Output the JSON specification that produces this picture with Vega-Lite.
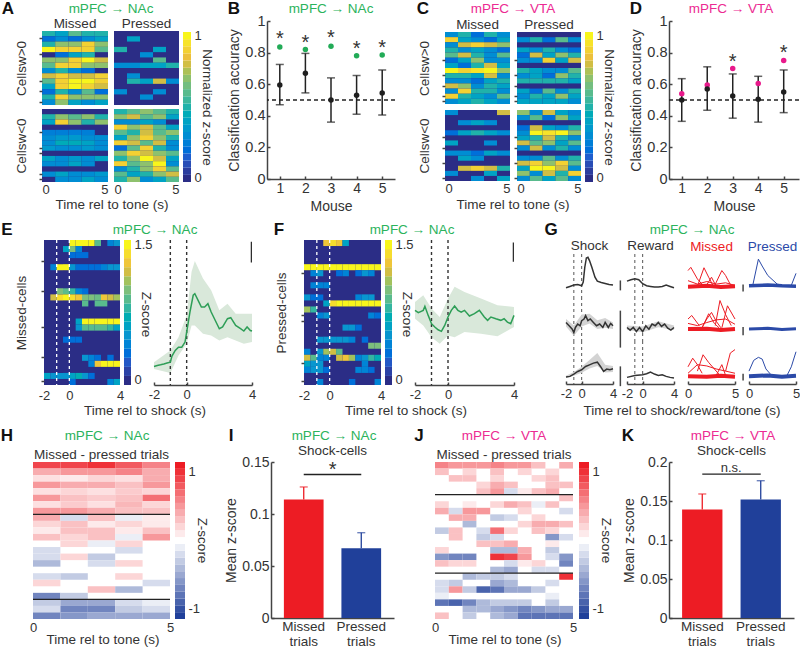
{"$schema":"https://vega.github.io/schema/vega-lite/v6.json","padding":0,"autosize":{"type":"pad"},
"config":{"view":{"stroke":null},"font":"Liberation Sans","concat":{"spacing":0},"axis":{"grid":false,"tickCount":12,"labelFlush":false,"labelColor":"#333","titleColor":"#333","labelFontSize":13,"titleFontSize":13.5,"titleFontWeight":"normal","domainColor":"#444","domainWidth":1.5,"tickColor":"#444","tickWidth":1.5,"tickSize":-3,"labelPadding":5},"title":{"fontSize":13.5,"fontWeight":"normal","color":"#333","offset":1},"text":{"color":"#333"}},
"datasets":{
"am":[{"t":0,"r":0,"v":0.5},{"t":1,"r":0,"v":0.4},{"t":2,"r":0,"v":0.6},{"t":3,"r":0,"v":0.5},{"t":4,"r":0,"v":0.5},{"t":0,"r":1,"v":0.2},{"t":1,"r":1,"v":0.3},{"t":2,"r":1,"v":0.2},{"t":3,"r":1,"v":0.3},{"t":4,"r":1,"v":0.4},{"t":0,"r":2,"v":0.5},{"t":1,"r":2,"v":0.7},{"t":2,"r":2,"v":0.7},{"t":3,"r":2,"v":0.9},{"t":4,"r":2,"v":0.7},{"t":0,"r":3,"v":1},{"t":1,"r":3,"v":0.9},{"t":2,"r":3,"v":0.9},{"t":3,"r":3,"v":0.9},{"t":4,"r":3,"v":0.6},{"t":1,"r":4,"v":0.2},{"t":2,"r":4,"v":0.4},{"t":3,"r":4,"v":0.5},{"t":0,"r":5,"v":0.7},{"t":1,"r":5,"v":0.7},{"t":2,"r":5,"v":0.9},{"t":3,"r":5,"v":1},{"t":4,"r":5,"v":0.8},{"t":0,"r":6,"v":0.6},{"t":1,"r":6,"v":0.9},{"t":2,"r":6,"v":0.9},{"t":3,"r":6,"v":0.7},{"t":4,"r":6,"v":0.7},{"t":0,"r":7,"v":0.3},{"t":1,"r":7,"v":0.5},{"t":2,"r":7,"v":0.3},{"t":3,"r":7,"v":0.2},{"t":0,"r":8,"v":0.8},{"t":1,"r":8,"v":0.9},{"t":2,"r":8,"v":0.8},{"t":3,"r":8,"v":0.8},{"t":4,"r":8,"v":0.9},{"t":0,"r":9,"v":0.6},{"t":1,"r":9,"v":0.9},{"t":2,"r":9,"v":1},{"t":3,"r":9,"v":1},{"t":4,"r":9,"v":0.9},{"t":0,"r":10,"v":0.4},{"t":1,"r":10,"v":0.9},{"t":2,"r":10,"v":1},{"t":3,"r":10,"v":0.9},{"t":4,"r":10,"v":0.8},{"t":0,"r":11,"v":0.2},{"t":1,"r":11,"v":0.5},{"t":2,"r":11,"v":0.3},{"t":3,"r":11,"v":0.6},{"t":4,"r":11,"v":0.2},{"t":0,"r":12,"v":0.5},{"t":1,"r":12,"v":0.9},{"t":2,"r":12,"v":0.7},{"t":3,"r":12,"v":0.7},{"t":4,"r":12,"v":0.7},{"t":0,"r":13,"v":0.3},{"t":1,"r":13,"v":0.7},{"t":2,"r":13,"v":0.4},{"t":3,"r":13,"v":0.3},{"t":4,"r":13,"v":0.4}],
"ap":[{"t":1,"r":1,"v":0.4},{"t":0,"r":3,"v":0.5},{"t":3,"r":3,"v":0.4},{"t":2,"r":4,"v":0.3},{"t":3,"r":5,"v":0.6},{"t":0,"r":6,"v":0.3},{"t":1,"r":6,"v":0.3},{"t":2,"r":6,"v":0.4},{"t":3,"r":6,"v":0.4},{"t":4,"r":6,"v":0.5},{"t":1,"r":8,"v":0.3},{"t":1,"r":9,"v":0.5},{"t":2,"r":9,"v":0.4},{"t":3,"r":9,"v":0.8},{"t":4,"r":9,"v":0.3},{"t":0,"r":11,"v":0.3},{"t":3,"r":11,"v":0.3},{"t":2,"r":12,"v":0.3}],
"bm":[{"t":0,"r":1,"v":0.5},{"t":1,"r":1,"v":0.7},{"t":2,"r":1,"v":0.6},{"t":3,"r":1,"v":0.7},{"t":4,"r":1,"v":0.5},{"t":0,"r":2,"v":0.4},{"t":1,"r":2,"v":0.9},{"t":2,"r":2,"v":0.7},{"t":3,"r":2,"v":0.5},{"t":4,"r":2,"v":0.7},{"t":0,"r":4,"v":0.25},{"t":1,"r":4,"v":0.25},{"t":2,"r":4,"v":0.25},{"t":3,"r":4,"v":0.25},{"t":0,"r":5,"v":0.3},{"t":1,"r":5,"v":0.35},{"t":2,"r":5,"v":0.35},{"t":3,"r":5,"v":0.3},{"t":4,"r":5,"v":0.3},{"t":0,"r":6,"v":0.3},{"t":1,"r":6,"v":0.45},{"t":2,"r":6,"v":0.45},{"t":3,"r":6,"v":0.4},{"t":4,"r":6,"v":0.3},{"t":0,"r":7,"v":0.35},{"t":1,"r":7,"v":0.3},{"t":2,"r":7,"v":0.3},{"t":3,"r":7,"v":0.35},{"t":4,"r":7,"v":0.3},{"t":0,"r":9,"v":0.4},{"t":1,"r":9,"v":0.3},{"t":2,"r":9,"v":0.35},{"t":3,"r":9,"v":0.3},{"t":4,"r":9,"v":0.4},{"t":0,"r":10,"v":0.3},{"t":1,"r":10,"v":0.3},{"t":2,"r":10,"v":0.4},{"t":3,"r":10,"v":0.3},{"t":0,"r":12,"v":0.3},{"t":1,"r":12,"v":0.4},{"t":2,"r":12,"v":0.3},{"t":3,"r":12,"v":0.3},{"t":4,"r":12,"v":0.35},{"t":1,"r":13,"v":0.3},{"t":2,"r":13,"v":0.3},{"t":3,"r":13,"v":0.4},{"t":4,"r":13,"v":0.3}],
"bp":[{"t":0,"r":0,"v":0.5},{"t":1,"r":0,"v":0.6},{"t":2,"r":0,"v":0.7},{"t":3,"r":0,"v":0.6},{"t":4,"r":0,"v":0.5},{"t":0,"r":1,"v":0.7},{"t":1,"r":1,"v":0.8},{"t":2,"r":1,"v":0.6},{"t":3,"r":1,"v":0.7},{"t":4,"r":1,"v":0.4},{"t":0,"r":2,"v":0.3},{"t":1,"r":2,"v":0.3},{"t":2,"r":2,"v":0.4},{"t":3,"r":2,"v":0.3},{"t":0,"r":3,"v":0.9},{"t":1,"r":3,"v":0.7},{"t":2,"r":3,"v":0.8},{"t":3,"r":3,"v":0.6},{"t":4,"r":3,"v":0.4},{"t":0,"r":4,"v":0.6},{"t":1,"r":4,"v":0.5},{"t":2,"r":4,"v":0.8},{"t":3,"r":4,"v":0.6},{"t":4,"r":4,"v":0.7},{"t":0,"r":5,"v":0.4},{"t":1,"r":5,"v":0.7},{"t":2,"r":5,"v":0.9},{"t":3,"r":5,"v":0.7},{"t":4,"r":5,"v":0.5},{"t":0,"r":6,"v":0.9},{"t":1,"r":6,"v":0.8},{"t":2,"r":6,"v":0.6},{"t":3,"r":6,"v":0.8},{"t":4,"r":6,"v":0.3},{"t":0,"r":7,"v":0.2},{"t":1,"r":7,"v":0.6},{"t":2,"r":7,"v":0.9},{"t":3,"r":7,"v":0.5},{"t":4,"r":7,"v":0.3},{"t":0,"r":8,"v":0.7},{"t":1,"r":8,"v":0.9},{"t":2,"r":8,"v":0.8},{"t":3,"r":8,"v":0.7},{"t":4,"r":8,"v":0.6},{"t":0,"r":9,"v":0.5},{"t":1,"r":9,"v":0.7},{"t":2,"r":9,"v":1},{"t":3,"r":9,"v":0.8},{"t":4,"r":9,"v":0.4},{"t":0,"r":10,"v":0.9},{"t":1,"r":10,"v":0.6},{"t":2,"r":10,"v":0.7},{"t":3,"r":10,"v":1},{"t":4,"r":10,"v":0.3},{"t":0,"r":11,"v":0.3},{"t":1,"r":11,"v":0.5},{"t":2,"r":11,"v":0.7},{"t":3,"r":11,"v":0.9},{"t":4,"r":11,"v":0.6},{"t":0,"r":12,"v":0.6},{"t":1,"r":12,"v":0.4},{"t":2,"r":12,"v":0.5},{"t":3,"r":12,"v":0.7},{"t":4,"r":12,"v":0.8},{"t":0,"r":13,"v":0.5},{"t":1,"r":13,"v":0.7},{"t":2,"r":13,"v":0.3},{"t":3,"r":13,"v":0.4},{"t":4,"r":13,"v":0.6}],
"cm":[{"t":0,"r":0,"v":0.3},{"t":1,"r":0,"v":0.5},{"t":2,"r":0,"v":0.2},{"t":3,"r":0,"v":0.5},{"t":4,"r":0,"v":0.3},{"t":0,"r":1,"v":0.9},{"t":1,"r":1,"v":0.4},{"t":2,"r":1,"v":0.3},{"t":3,"r":1,"v":0.2},{"t":4,"r":1,"v":0.4},{"t":0,"r":2,"v":0.3},{"t":1,"r":2,"v":0.8},{"t":2,"r":2,"v":0.9},{"t":3,"r":2,"v":0.8},{"t":4,"r":2,"v":0.7},{"t":0,"r":3,"v":0.5},{"t":1,"r":3,"v":0.3},{"t":2,"r":3,"v":0.4},{"t":3,"r":3,"v":0.3},{"t":4,"r":3,"v":0.2},{"t":0,"r":4,"v":0.6},{"t":1,"r":4,"v":0.8},{"t":2,"r":4,"v":0.5},{"t":3,"r":4,"v":0.3},{"t":4,"r":4,"v":0.6},{"t":0,"r":5,"v":0.2},{"t":1,"r":5,"v":0.4},{"t":2,"r":5,"v":0.7},{"t":3,"r":5,"v":0.3},{"t":4,"r":5,"v":0.3},{"t":0,"r":6,"v":0.4},{"t":1,"r":6,"v":0.2},{"t":2,"r":6,"v":0.5},{"t":3,"r":6,"v":0.8},{"t":4,"r":6,"v":0.4},{"t":0,"r":7,"v":1},{"t":1,"r":7,"v":0.9},{"t":2,"r":7,"v":0.95},{"t":3,"r":7,"v":1},{"t":4,"r":7,"v":0.7},{"t":0,"r":8,"v":0.5},{"t":1,"r":8,"v":0.5},{"t":2,"r":8,"v":0.4},{"t":3,"r":8,"v":0.8},{"t":4,"r":8,"v":0.3},{"t":0,"r":9,"v":0.3},{"t":1,"r":9,"v":0.3},{"t":2,"r":9,"v":0.2},{"t":3,"r":9,"v":0.4},{"t":4,"r":9,"v":0.5},{"t":0,"r":10,"v":0.8},{"t":1,"r":10,"v":0.7},{"t":2,"r":10,"v":0.3},{"t":3,"r":10,"v":0.5},{"t":4,"r":10,"v":0.4},{"t":0,"r":11,"v":0.3},{"t":1,"r":11,"v":0.9},{"t":2,"r":11,"v":0.5},{"t":3,"r":11,"v":0.5},{"t":4,"r":11,"v":0.3},{"t":0,"r":12,"v":0.9},{"t":1,"r":12,"v":0.5},{"t":2,"r":12,"v":0.4},{"t":3,"r":12,"v":0.3},{"t":4,"r":12,"v":0.6},{"t":0,"r":13,"v":0.3},{"t":1,"r":13,"v":0.4},{"t":2,"r":13,"v":0.5},{"t":3,"r":13,"v":0.4},{"t":4,"r":13,"v":0.3}],
"cp":[{"t":0,"r":1,"v":0.3},{"t":1,"r":1,"v":0.5},{"t":2,"r":1,"v":0.2},{"t":3,"r":1,"v":0.6},{"t":4,"r":1,"v":0.3},{"t":0,"r":3,"v":0.4},{"t":1,"r":3,"v":0.3},{"t":2,"r":3,"v":0.5},{"t":3,"r":3,"v":0.3},{"t":4,"r":3,"v":0.2},{"t":0,"r":4,"v":0.2},{"t":1,"r":4,"v":0.8},{"t":2,"r":4,"v":0.4},{"t":3,"r":4,"v":0.7},{"t":4,"r":4,"v":0.5},{"t":0,"r":5,"v":0.3},{"t":1,"r":5,"v":0.3},{"t":2,"r":5,"v":0.9},{"t":3,"r":5,"v":0.4},{"t":4,"r":5,"v":0.8},{"t":0,"r":7,"v":0.5},{"t":1,"r":7,"v":0.4},{"t":2,"r":7,"v":0.3},{"t":3,"r":7,"v":0.3},{"t":4,"r":7,"v":0.6},{"t":0,"r":8,"v":0.3},{"t":1,"r":8,"v":0.4},{"t":2,"r":8,"v":0.2},{"t":3,"r":8,"v":0.7},{"t":4,"r":8,"v":0.5},{"t":0,"r":9,"v":0.5},{"t":1,"r":9,"v":0.5},{"t":2,"r":9,"v":0.5},{"t":3,"r":9,"v":0.5},{"t":4,"r":9,"v":0.4},{"t":0,"r":11,"v":0.4},{"t":1,"r":11,"v":0.2},{"t":2,"r":11,"v":0.6},{"t":3,"r":11,"v":0.3},{"t":4,"r":11,"v":0.5},{"t":0,"r":12,"v":0.3},{"t":1,"r":12,"v":0.5},{"t":2,"r":12,"v":0.4},{"t":3,"r":12,"v":0.7},{"t":4,"r":12,"v":0.4},{"t":0,"r":13,"v":0.4},{"t":1,"r":13,"v":0.4},{"t":2,"r":13,"v":0.4},{"t":3,"r":13,"v":0.4},{"t":4,"r":13,"v":0.3}],
"dm":[{"t":0,"r":0,"v":0.3},{"t":4,"r":0,"v":0.8},{"t":1,"r":2,"v":0.3},{"t":2,"r":2,"v":0.4},{"t":3,"r":2,"v":0.3},{"t":0,"r":4,"v":0.2},{"t":1,"r":4,"v":0.4},{"t":2,"r":4,"v":0.5},{"t":3,"r":4,"v":0.4},{"t":4,"r":4,"v":0.3},{"t":0,"r":6,"v":0.4},{"t":3,"r":6,"v":0.3},{"t":0,"r":8,"v":0.3},{"t":1,"r":8,"v":0.3},{"t":2,"r":8,"v":0.2},{"t":3,"r":8,"v":0.4},{"t":4,"r":8,"v":0.3},{"t":1,"r":9,"v":0.4},{"t":2,"r":9,"v":0.3},{"t":1,"r":11,"v":0.8},{"t":2,"r":11,"v":0.9},{"t":3,"r":11,"v":0.8},{"t":4,"r":11,"v":0.5},{"t":0,"r":12,"v":0.3},{"t":3,"r":12,"v":0.4},{"t":2,"r":13,"v":0.3},{"t":4,"r":13,"v":0.4}],
"dp":[{"t":0,"r":0,"v":0.7},{"t":1,"r":0,"v":0.3},{"t":2,"r":0,"v":0.8},{"t":3,"r":0,"v":0.4},{"t":4,"r":0,"v":0.3},{"t":0,"r":1,"v":0.3},{"t":1,"r":1,"v":0.6},{"t":2,"r":1,"v":0.2},{"t":3,"r":1,"v":0.7},{"t":4,"r":1,"v":0.4},{"t":0,"r":3,"v":0.2},{"t":1,"r":3,"v":0.8},{"t":2,"r":3,"v":0.4},{"t":3,"r":3,"v":0.3},{"t":4,"r":3,"v":0.5},{"t":0,"r":4,"v":0.3},{"t":1,"r":4,"v":1},{"t":2,"r":4,"v":0.95},{"t":3,"r":4,"v":1},{"t":4,"r":4,"v":0.7},{"t":0,"r":5,"v":0.4},{"t":1,"r":5,"v":0.5},{"t":2,"r":5,"v":0.8},{"t":3,"r":5,"v":0.5},{"t":4,"r":5,"v":0.3},{"t":0,"r":6,"v":0.8},{"t":1,"r":6,"v":0.6},{"t":2,"r":6,"v":0.7},{"t":3,"r":6,"v":0.4},{"t":4,"r":6,"v":0.6},{"t":0,"r":7,"v":0.3},{"t":1,"r":7,"v":0.8},{"t":2,"r":7,"v":0.3},{"t":3,"r":7,"v":0.5},{"t":4,"r":7,"v":0.3},{"t":0,"r":9,"v":0.3},{"t":1,"r":9,"v":0.3},{"t":2,"r":9,"v":0.6},{"t":3,"r":9,"v":0.3},{"t":4,"r":9,"v":0.5},{"t":0,"r":10,"v":0.8},{"t":1,"r":10,"v":0.9},{"t":2,"r":10,"v":0.7},{"t":3,"r":10,"v":0.9},{"t":4,"r":10,"v":0.6},{"t":0,"r":11,"v":0.4},{"t":1,"r":11,"v":1},{"t":2,"r":11,"v":1},{"t":3,"r":11,"v":0.8},{"t":4,"r":11,"v":0.3},{"t":0,"r":12,"v":0.7},{"t":1,"r":12,"v":0.3},{"t":2,"r":12,"v":0.8},{"t":3,"r":12,"v":0.5},{"t":4,"r":12,"v":0.9},{"t":0,"r":13,"v":0.3},{"t":1,"r":13,"v":0.6},{"t":2,"r":13,"v":0.4},{"t":3,"r":13,"v":0.6},{"t":4,"r":13,"v":0.3}],
"eh":[{"t":0,"r":0,"v":1.5},{"t":0.5,"r":0,"v":1.5},{"t":1,"r":0,"v":1.5},{"t":1.5,"r":0,"v":1.5},{"t":2,"r":0,"v":0.9},{"t":3,"r":0,"v":0.4},{"t":3.5,"r":0,"v":0.5},{"t":-0.5,"r":1,"v":0.6},{"t":0,"r":1,"v":1},{"t":0.5,"r":1,"v":0.4},{"t":0,"r":2,"v":0.3},{"t":0.5,"r":2,"v":0.3},{"t":1,"r":2,"v":0.3},{"t":-1.5,"r":4,"v":0.4},{"t":-1,"r":4,"v":1.5},{"t":-0.5,"r":4,"v":1.5},{"t":0,"r":4,"v":0.5},{"t":0.5,"r":4,"v":0.3},{"t":1,"r":4,"v":0.3},{"t":1.5,"r":4,"v":0.3},{"t":2,"r":4,"v":0.3},{"t":2.5,"r":4,"v":0.4},{"t":3,"r":4,"v":0.5},{"t":3.5,"r":4,"v":0.5},{"t":-1,"r":8,"v":1},{"t":-0.5,"r":8,"v":0.9},{"t":0,"r":8,"v":0.8},{"t":0.5,"r":8,"v":0.4},{"t":1,"r":8,"v":0.3},{"t":-1.5,"r":9,"v":1.2},{"t":-1,"r":9,"v":1.4},{"t":-0.5,"r":9,"v":1.5},{"t":0,"r":9,"v":1.4},{"t":0.5,"r":9,"v":1.3},{"t":1,"r":9,"v":1},{"t":1.5,"r":9,"v":1},{"t":2,"r":9,"v":0.95},{"t":2.5,"r":9,"v":1.3},{"t":3,"r":9,"v":1.2},{"t":3.5,"r":9,"v":1.1},{"t":1,"r":10,"v":0.9},{"t":2,"r":10,"v":0.9},{"t":2.5,"r":10,"v":0.9},{"t":0.5,"r":13,"v":0.6},{"t":1,"r":13,"v":1.5},{"t":1.5,"r":13,"v":1.5},{"t":2,"r":13,"v":1.5},{"t":2.5,"r":13,"v":1.5},{"t":3,"r":13,"v":1.5},{"t":3.5,"r":13,"v":1.5},{"t":0.5,"r":14,"v":0.5},{"t":1,"r":14,"v":0.9},{"t":1.5,"r":14,"v":0.9},{"t":2,"r":14,"v":0.9},{"t":2.5,"r":14,"v":0.9},{"t":3,"r":14,"v":0.8},{"t":3.5,"r":14,"v":0.6},{"t":-0.5,"r":16,"v":0.3},{"t":0,"r":16,"v":0.3},{"t":0.5,"r":16,"v":0.3},{"t":1,"r":19,"v":0.5},{"t":1.5,"r":19,"v":0.4},{"t":2,"r":19,"v":0.3},{"t":3,"r":19,"v":0.3},{"t":1.5,"r":20,"v":0.4},{"t":2,"r":20,"v":1.3},{"t":2.5,"r":20,"v":1.5},{"t":3,"r":20,"v":1.5},{"t":3.5,"r":20,"v":1.5},{"t":-2,"r":22,"v":0.6},{"t":-1.5,"r":22,"v":0.5},{"t":-1,"r":22,"v":0.5},{"t":-0.5,"r":22,"v":0.5},{"t":0,"r":22,"v":0.6},{"t":0.5,"r":22,"v":0.7},{"t":1,"r":22,"v":0.5},{"t":1.5,"r":22,"v":0.3},{"t":0,"r":23,"v":0.3},{"t":3,"r":23,"v":0.4},{"t":3.5,"r":23,"v":0.6}],
"fh":[{"t":-0.5,"r":0,"v":1.3},{"t":0,"r":0,"v":1.4},{"t":0.5,"r":0,"v":1.3},{"t":1,"r":0,"v":0.6},{"t":-2,"r":4,"v":1.5},{"t":-1.5,"r":4,"v":1.5},{"t":-1,"r":4,"v":1.5},{"t":-0.5,"r":4,"v":1.5},{"t":0,"r":4,"v":1.5},{"t":0.5,"r":4,"v":1.5},{"t":1,"r":4,"v":1.5},{"t":1.5,"r":4,"v":1.5},{"t":2,"r":4,"v":1.5},{"t":2.5,"r":4,"v":1.5},{"t":3,"r":4,"v":1.5},{"t":3.5,"r":4,"v":1.5},{"t":-1.5,"r":5,"v":0.4},{"t":-1,"r":5,"v":0.5},{"t":0.5,"r":5,"v":0.3},{"t":1,"r":5,"v":0.4},{"t":2,"r":5,"v":0.3},{"t":2.5,"r":5,"v":0.5},{"t":3,"r":5,"v":0.4},{"t":-1.5,"r":7,"v":0.4},{"t":-1,"r":7,"v":0.4},{"t":-0.5,"r":7,"v":0.4},{"t":-2,"r":9,"v":0.5},{"t":-1.5,"r":9,"v":0.3},{"t":-1,"r":9,"v":0.3},{"t":2,"r":9,"v":0.4},{"t":2.5,"r":9,"v":0.5},{"t":3,"r":9,"v":0.5},{"t":-0.5,"r":10,"v":0.6},{"t":0,"r":10,"v":1.4},{"t":0.5,"r":10,"v":1.5},{"t":1,"r":10,"v":1.5},{"t":1.5,"r":10,"v":1.5},{"t":2,"r":10,"v":1.5},{"t":2.5,"r":10,"v":1.5},{"t":3,"r":10,"v":1.5},{"t":3.5,"r":10,"v":1.5},{"t":-2,"r":11,"v":1.1},{"t":-1.5,"r":11,"v":0.8},{"t":-1,"r":12,"v":0.4},{"t":-0.5,"r":12,"v":0.5},{"t":3,"r":12,"v":0.4},{"t":3.5,"r":12,"v":0.3},{"t":1,"r":14,"v":0.5},{"t":1.5,"r":14,"v":0.5},{"t":2,"r":14,"v":0.3},{"t":-1,"r":16,"v":0.5},{"t":-0.5,"r":16,"v":0.5},{"t":0,"r":16,"v":0.5},{"t":0.5,"r":16,"v":0.5},{"t":1,"r":16,"v":0.5},{"t":1.5,"r":16,"v":0.4},{"t":2.5,"r":16,"v":0.3},{"t":3,"r":17,"v":1},{"t":3.5,"r":17,"v":1},{"t":-2,"r":18,"v":0.4},{"t":-1,"r":18,"v":0.5},{"t":-0.5,"r":18,"v":1.1},{"t":0,"r":18,"v":1.2},{"t":0.5,"r":18,"v":0.9},{"t":-2,"r":19,"v":1.2},{"t":-1.5,"r":19,"v":0.9},{"t":-1,"r":19,"v":0.4},{"t":-0.5,"r":19,"v":0.4},{"t":0.5,"r":19,"v":1.2},{"t":1,"r":19,"v":1.3},{"t":1.5,"r":19,"v":1.1},{"t":2,"r":19,"v":0.4},{"t":2.5,"r":19,"v":0.5},{"t":3,"r":19,"v":0.8},{"t":3.5,"r":19,"v":0.7},{"t":-2,"r":20,"v":0.6},{"t":-1.5,"r":20,"v":0.5},{"t":-1,"r":20,"v":0.5},{"t":2.5,"r":20,"v":0.4},{"t":-2,"r":21,"v":0.4},{"t":-1.5,"r":21,"v":0.5},{"t":-1,"r":21,"v":0.5},{"t":-0.5,"r":21,"v":0.3},{"t":2,"r":21,"v":0.4},{"t":2.5,"r":21,"v":0.4},{"t":3,"r":21,"v":0.3},{"t":-1,"r":23,"v":0.4},{"t":1.5,"r":23,"v":0.3},{"t":3.5,"r":23,"v":0.4}],
"hh":[{"t":0,"r":0,"v":0.9},{"t":1,"r":0,"v":0.9},{"t":2,"r":0,"v":1},{"t":3,"r":0,"v":0.8},{"t":4,"r":0,"v":0.6},{"t":0,"r":1,"v":0.4},{"t":1,"r":1,"v":0.5},{"t":2,"r":1,"v":0.5},{"t":3,"r":1,"v":0.6},{"t":4,"r":1,"v":0.4},{"t":0,"r":2,"v":0.15},{"t":1,"r":2,"v":0.1},{"t":2,"r":2,"v":0.2},{"t":3,"r":2,"v":0.15},{"t":4,"r":2,"v":0.4},{"t":0,"r":3,"v":0.5},{"t":1,"r":3,"v":0.4},{"t":2,"r":3,"v":0.4},{"t":3,"r":3,"v":0.3},{"t":4,"r":3,"v":0.5},{"t":0,"r":4,"v":0.15},{"t":1,"r":4,"v":0.2},{"t":2,"r":4,"v":0.15},{"t":3,"r":4,"v":0.25},{"t":4,"r":4,"v":0.2},{"t":0,"r":5,"v":0.5},{"t":1,"r":5,"v":0.3},{"t":2,"r":5,"v":0.25},{"t":3,"r":5,"v":0.3},{"t":4,"r":5,"v":0.7},{"t":0,"r":6,"v":0.15},{"t":1,"r":6,"v":0.25},{"t":2,"r":6,"v":0.15},{"t":3,"r":6,"v":0.35},{"t":4,"r":6,"v":0.2},{"t":0,"r":7,"v":0.5},{"t":1,"r":7,"v":0.5},{"t":2,"r":7,"v":0.4},{"t":3,"r":7,"v":0.3},{"t":4,"r":7,"v":0.3},{"t":0,"r":8,"v":0.4},{"t":1,"r":8,"v":-0.2},{"t":2,"r":8,"v":0.3},{"t":3,"r":8,"v":-0.1},{"t":4,"r":8,"v":0.1},{"t":0,"r":9,"v":0.2},{"t":1,"r":9,"v":0.3},{"t":2,"r":9,"v":0.1},{"t":3,"r":9,"v":0.2},{"t":4,"r":9,"v":0.1},{"t":0,"r":10,"v":0.1},{"t":1,"r":10,"v":0.3},{"t":2,"r":10,"v":0.3},{"t":3,"r":10,"v":0.1},{"t":4,"r":10,"v":0.3},{"t":0,"r":11,"v":0.3},{"t":1,"r":11,"v":0.2},{"t":2,"r":11,"v":0.3},{"t":3,"r":11,"v":-0.1},{"t":4,"r":11,"v":0.5},{"t":1,"r":12,"v":0.2},{"t":2,"r":12,"v":-0.1},{"t":3,"r":12,"v":0.2},{"t":0,"r":13,"v":-0.2},{"t":3,"r":13,"v":-0.2},{"t":0,"r":14,"v":-0.2},{"t":1,"r":14,"v":0.2},{"t":2,"r":14,"v":-0.3},{"t":0,"r":15,"v":-0.4},{"t":2,"r":15,"v":-0.2},{"t":3,"r":15,"v":0.2},{"t":0,"r":17,"v":-0.2},{"t":1,"r":17,"v":-0.3},{"t":3,"r":17,"v":0.2},{"t":0,"r":18,"v":0.2},{"t":4,"r":18,"v":-0.2},{"t":2,"r":19,"v":0.3},{"t":3,"r":19,"v":-0.4},{"t":0,"r":20,"v":-0.7},{"t":1,"r":20,"v":-0.3},{"t":0,"r":21,"v":-0.3},{"t":1,"r":21,"v":-0.5},{"t":2,"r":21,"v":-0.5},{"t":3,"r":21,"v":-0.2},{"t":4,"r":21,"v":-0.1},{"t":0,"r":22,"v":-0.2},{"t":1,"r":22,"v":-0.7},{"t":2,"r":22,"v":-0.7},{"t":3,"r":22,"v":-0.3},{"t":4,"r":22,"v":-0.2},{"t":0,"r":23,"v":-0.7},{"t":1,"r":23,"v":-0.6},{"t":2,"r":23,"v":-0.5},{"t":3,"r":23,"v":-0.5},{"t":4,"r":23,"v":-0.5}],
"jh":[{"t":0,"r":0,"v":0.6},{"t":0.5,"r":0,"v":0.5},{"t":1,"r":0,"v":0.5},{"t":1.5,"r":0,"v":0.5},{"t":2,"r":0,"v":0.6},{"t":2.5,"r":0,"v":0.5},{"t":3,"r":0,"v":0.5},{"t":3.5,"r":0,"v":0.3},{"t":4.5,"r":0,"v":0.4},{"t":0,"r":1,"v":0.3},{"t":1,"r":1,"v":0.2},{"t":2,"r":1,"v":0.3},{"t":3,"r":1,"v":0.2},{"t":4,"r":1,"v":0.2},{"t":0.5,"r":2,"v":0.3},{"t":1,"r":2,"v":0.3},{"t":2,"r":2,"v":0.2},{"t":3.5,"r":2,"v":0.2},{"t":4,"r":2,"v":0.3},{"t":1.5,"r":3,"v":0.2},{"t":2,"r":3,"v":0.4},{"t":2.5,"r":3,"v":0.3},{"t":4,"r":3,"v":0.3},{"t":4.5,"r":3,"v":0.3},{"t":1.5,"r":4,"v":0.3},{"t":2,"r":4,"v":0.5},{"t":2.5,"r":4,"v":-0.2},{"t":3,"r":4,"v":0.1},{"t":3.5,"r":4,"v":0.3},{"t":4,"r":4,"v":0.4},{"t":4.5,"r":5,"v":0.3},{"t":0,"r":6,"v":0.2},{"t":1,"r":6,"v":0.1},{"t":2,"r":6,"v":0.2},{"t":2.5,"r":6,"v":0.4},{"t":3,"r":6,"v":0.3},{"t":3.5,"r":6,"v":-0.1},{"t":4,"r":6,"v":0.3},{"t":0,"r":7,"v":0.4},{"t":0.5,"r":7,"v":-0.2},{"t":1,"r":7,"v":0.5},{"t":1.5,"r":7,"v":0.5},{"t":3,"r":7,"v":0.2},{"t":4.5,"r":7,"v":-0.2},{"t":0.5,"r":8,"v":0.4},{"t":1,"r":8,"v":0.4},{"t":2,"r":8,"v":-0.3},{"t":2.5,"r":8,"v":-0.2},{"t":3.5,"r":8,"v":0.2},{"t":1,"r":9,"v":-0.4},{"t":3,"r":9,"v":0.2},{"t":3.5,"r":9,"v":0.4},{"t":4,"r":9,"v":0.4},{"t":4.5,"r":9,"v":0.3},{"t":0,"r":10,"v":-0.3},{"t":0.5,"r":10,"v":0.3},{"t":1.5,"r":10,"v":-0.2},{"t":2,"r":10,"v":0.7},{"t":2.5,"r":10,"v":0.2},{"t":3.5,"r":10,"v":0.3},{"t":4,"r":10,"v":0.2},{"t":0.5,"r":11,"v":0.3},{"t":1.5,"r":11,"v":-0.3},{"t":2,"r":11,"v":-0.2},{"t":4,"r":11,"v":-0.6},{"t":4.5,"r":11,"v":-0.2},{"t":1.5,"r":12,"v":0.3},{"t":2,"r":12,"v":0.3},{"t":2.5,"r":12,"v":0.4},{"t":4,"r":12,"v":0.1},{"t":0,"r":13,"v":0.2},{"t":2,"r":13,"v":-0.4},{"t":2.5,"r":13,"v":-0.4},{"t":3,"r":13,"v":0.4},{"t":4,"r":13,"v":-0.3},{"t":0,"r":14,"v":-0.6},{"t":0.5,"r":14,"v":-0.7},{"t":1,"r":14,"v":-0.7},{"t":2,"r":14,"v":1},{"t":2.5,"r":14,"v":0.9},{"t":3,"r":14,"v":0.5},{"t":4,"r":14,"v":-0.2},{"t":4.5,"r":14,"v":-0.6},{"t":0,"r":15,"v":0.3},{"t":0.5,"r":15,"v":0.2},{"t":1,"r":15,"v":0.2},{"t":2.5,"r":15,"v":-0.2},{"t":3,"r":15,"v":0.1},{"t":3.5,"r":15,"v":0.2},{"t":4.5,"r":15,"v":-0.7},{"t":2,"r":16,"v":-0.4},{"t":2.5,"r":16,"v":-0.5},{"t":3.5,"r":16,"v":-0.2},{"t":4,"r":16,"v":-0.2},{"t":1,"r":17,"v":-0.4},{"t":1.5,"r":17,"v":-0.3},{"t":2,"r":17,"v":-0.3},{"t":2.5,"r":17,"v":-0.2},{"t":4.5,"r":17,"v":1},{"t":0,"r":18,"v":-0.2},{"t":0.5,"r":18,"v":-0.3},{"t":2,"r":18,"v":-0.5},{"t":2.5,"r":18,"v":-0.4},{"t":4,"r":18,"v":-0.2},{"t":0,"r":19,"v":-0.2},{"t":0.5,"r":19,"v":0.5},{"t":1,"r":19,"v":-0.3},{"t":1.5,"r":19,"v":-0.9},{"t":2,"r":19,"v":-0.8},{"t":2.5,"r":19,"v":-0.5},{"t":3,"r":19,"v":-0.5},{"t":3.5,"r":19,"v":-0.3},{"t":0,"r":20,"v":-0.1},{"t":4,"r":20,"v":-0.1},{"t":0,"r":21,"v":-0.8},{"t":0.5,"r":21,"v":-0.9},{"t":1,"r":21,"v":-0.7},{"t":1.5,"r":21,"v":-0.4},{"t":2,"r":21,"v":-0.3},{"t":2.5,"r":21,"v":-0.3},{"t":3,"r":21,"v":-0.3},{"t":4,"r":21,"v":-0.3},{"t":1,"r":22,"v":-0.4},{"t":1.5,"r":22,"v":-0.4},{"t":2,"r":22,"v":-0.5},{"t":2.5,"r":22,"v":-0.6},{"t":3,"r":22,"v":-0.7},{"t":3.5,"r":22,"v":-0.6},{"t":4,"r":22,"v":-0.5},{"t":4.5,"r":22,"v":-0.5},{"t":0,"r":23,"v":0.3},{"t":1,"r":23,"v":-0.3},{"t":2,"r":23,"v":-0.4},{"t":2.5,"r":23,"v":-0.5},{"t":3,"r":23,"v":-0.8},{"t":3.5,"r":23,"v":-0.8},{"t":4,"r":23,"v":-0.8},{"t":4.5,"r":23,"v":-0.8}],
"c1":[{"v":0},{"v":0.05},{"v":0.1},{"v":0.15},{"v":0.2},{"v":0.25},{"v":0.3},{"v":0.35},{"v":0.4},{"v":0.45},{"v":0.5},{"v":0.55},{"v":0.6},{"v":0.65},{"v":0.7},{"v":0.75},{"v":0.8},{"v":0.85},{"v":0.9},{"v":0.95},{"v":1}],
"c2":[{"v":0},{"v":0.1},{"v":0.2},{"v":0.3},{"v":0.4},{"v":0.5},{"v":0.6},{"v":0.7},{"v":0.8},{"v":0.9},{"v":1},{"v":1.1},{"v":1.2},{"v":1.3},{"v":1.4},{"v":1.5}],
"c3":[{"v":-1.1},{"v":-1},{"v":-0.9},{"v":-0.8},{"v":-0.7},{"v":-0.6},{"v":-0.5},{"v":-0.4},{"v":-0.3},{"v":-0.2},{"v":-0.1},{"v":0},{"v":0.1},{"v":0.2},{"v":0.3},{"v":0.4},{"v":0.5},{"v":0.6},{"v":0.7},{"v":0.8},{"v":0.9},{"v":1},{"v":1.1}],
"b":[{"m":1,"d":0.835,"s":0.595,"lo":0.47,"hi":0.725,"st":0.91},{"m":2,"d":0.82,"s":0.67,"lo":0.545,"hi":0.795,"st":0.885},{"m":3,"d":0.84,"s":0.5,"lo":0.36,"hi":0.64,"st":0.915},{"m":4,"d":0.78,"s":0.53,"lo":0.41,"hi":0.655,"st":0.85},{"m":5,"d":0.785,"s":0.545,"lo":0.405,"hi":0.69,"st":0.855}],
"d":[{"m":1,"d":0.54,"s":0.5,"lo":0.365,"hi":0.635},{"m":2,"d":0.595,"s":0.57,"lo":0.435,"hi":0.71},{"m":3,"d":0.7,"s":0.525,"lo":0.385,"hi":0.665,"st":0.766},{"m":4,"d":0.605,"s":0.505,"lo":0.36,"hi":0.65},{"m":5,"d":0.75,"s":0.55,"lo":0.42,"hi":0.69,"st":0.82}],
"el":[{"t":-2,"v":0.127},{"t":-1.8,"v":0.134},{"t":-1.6,"v":0.139},{"t":-1.4,"v":0.145},{"t":-1.2,"v":0.152},{"t":-1,"v":0.157},{"t":-0.9,"v":0.199},{"t":-0.7,"v":0.238},{"t":-0.5,"v":0.261},{"t":-0.3,"v":0.261},{"t":-0.1,"v":0.296},{"t":0,"v":0.365},{"t":0.2,"v":0.503},{"t":0.4,"v":0.619},{"t":0.5,"v":0.63},{"t":0.7,"v":0.584},{"t":0.9,"v":0.538},{"t":1.1,"v":0.538},{"t":1.3,"v":0.561},{"t":1.5,"v":0.503},{"t":1.7,"v":0.457},{"t":2,"v":0.388},{"t":2.2,"v":0.4},{"t":2.5,"v":0.457},{"t":2.7,"v":0.464},{"t":3,"v":0.411},{"t":3.3,"v":0.388},{"t":3.5,"v":0.372},{"t":3.7,"v":0.4},{"t":3.9,"v":0.376},{"t":4,"v":0.372}],
"eb":[{"t":-2,"hi":0.157,"lo":0.111},{"t":-1,"hi":0.238,"lo":0.083},{"t":-0.5,"hi":0.33,"lo":0.203},{"t":0,"hi":0.48,"lo":0.284},{"t":0.3,"hi":0.781,"lo":0.411},{"t":0.5,"hi":0.855,"lo":0.411},{"t":1,"hi":0.734,"lo":0.353},{"t":1.5,"hi":0.654,"lo":0.342},{"t":2,"hi":0.515,"lo":0.307},{"t":2.5,"hi":0.561,"lo":0.33},{"t":3,"hi":0.492,"lo":0.307},{"t":3.5,"hi":0.492,"lo":0.284},{"t":4,"hi":0.492,"lo":0.296}],
"fl":[{"t":-2,"v":0.515},{"t":-1.8,"v":0.499},{"t":-1.5,"v":0.515},{"t":-1.4,"v":0.543},{"t":-1.2,"v":0.48},{"t":-1,"v":0.423},{"t":-0.8,"v":0.4},{"t":-0.6,"v":0.381},{"t":-0.4,"v":0.37},{"t":-0.2,"v":0.411},{"t":0,"v":0.469},{"t":0.2,"v":0.515},{"t":0.4,"v":0.545},{"t":0.6,"v":0.515},{"t":0.8,"v":0.503},{"t":1,"v":0.515},{"t":1.3,"v":0.476},{"t":1.6,"v":0.492},{"t":1.9,"v":0.515},{"t":2.2,"v":0.469},{"t":2.4,"v":0.446},{"t":2.6,"v":0.469},{"t":2.9,"v":0.457},{"t":3.2,"v":0.446},{"t":3.4,"v":0.457},{"t":3.6,"v":0.434},{"t":3.8,"v":0.423},{"t":4,"v":0.48}],
"fb":[{"t":-2,"hi":0.573,"lo":0.457},{"t":-1.5,"hi":0.619,"lo":0.411},{"t":-1,"hi":0.527,"lo":0.33},{"t":-0.5,"hi":0.469,"lo":0.284},{"t":0,"hi":0.596,"lo":0.342},{"t":0.4,"hi":0.677,"lo":0.33},{"t":1,"hi":0.642,"lo":0.365},{"t":2,"hi":0.596,"lo":0.353},{"t":3,"hi":0.55,"lo":0.337},{"t":4,"hi":0.538,"lo":0.4}],
"gs":[{"r":1,"t":-2,"v":0.215},{"r":1,"t":-1.5,"v":0.246},{"r":1,"t":-1,"v":0.277},{"r":1,"t":-0.5,"v":0.292},{"r":1,"t":0,"v":0.262},{"r":1,"t":0.2,"v":0.346},{"r":1,"t":0.4,"v":0.692},{"r":1,"t":0.6,"v":0.908},{"r":1,"t":0.8,"v":0.923},{"r":1,"t":1,"v":0.846},{"r":1,"t":1.3,"v":0.692},{"r":1,"t":1.7,"v":0.462},{"r":1,"t":2,"v":0.369},{"r":1,"t":2.5,"v":0.338},{"r":1,"t":3,"v":0.315},{"r":1,"t":3.5,"v":0.292},{"r":1,"t":4,"v":0.277},{"r":2,"t":-2,"v":0.423},{"r":2,"t":-1.6,"v":0.346},{"r":2,"t":-1.2,"v":0.269},{"r":2,"t":-1,"v":0.192},{"r":2,"t":-0.8,"v":0.308},{"r":2,"t":-0.5,"v":0.385},{"r":2,"t":-0.2,"v":0.346},{"r":2,"t":0,"v":0.462},{"r":2,"t":0.3,"v":0.5},{"r":2,"t":0.5,"v":0.577},{"r":2,"t":0.8,"v":0.462},{"r":2,"t":1.1,"v":0.5},{"r":2,"t":1.5,"v":0.423},{"r":2,"t":1.9,"v":0.346},{"r":2,"t":2.3,"v":0.385},{"r":2,"t":2.7,"v":0.308},{"r":2,"t":3,"v":0.423},{"r":2,"t":3.4,"v":0.308},{"r":2,"t":3.7,"v":0.4},{"r":2,"t":4,"v":0.346},{"r":3,"t":-2,"v":0.162},{"r":3,"t":-1.5,"v":0.177},{"r":3,"t":-1,"v":0.231},{"r":3,"t":-0.5,"v":0.292},{"r":3,"t":0,"v":0.331},{"r":3,"t":0.5,"v":0.408},{"r":3,"t":1,"v":0.446},{"r":3,"t":1.5,"v":0.485},{"r":3,"t":2,"v":0.508},{"r":3,"t":2.4,"v":0.408},{"r":3,"t":2.8,"v":0.292},{"r":3,"t":3.2,"v":0.346},{"r":3,"t":3.6,"v":0.331},{"r":3,"t":4,"v":0.354}],
"gr":[{"r":1,"t":-2,"v":0.369},{"r":1,"t":-1.5,"v":0.4},{"r":1,"t":-1,"v":0.423},{"r":1,"t":-0.5,"v":0.4},{"r":1,"t":0,"v":0.308},{"r":1,"t":0.5,"v":0.262},{"r":1,"t":1,"v":0.246},{"r":1,"t":1.5,"v":0.231},{"r":1,"t":2,"v":0.231},{"r":1,"t":2.5,"v":0.246},{"r":1,"t":3,"v":0.277},{"r":1,"t":3.5,"v":0.246},{"r":1,"t":4,"v":0.215},{"r":2,"t":-2,"v":0.308},{"r":2,"t":-1.6,"v":0.246},{"r":2,"t":-1.2,"v":0.308},{"r":2,"t":-0.8,"v":0.215},{"r":2,"t":-0.4,"v":0.308},{"r":2,"t":0,"v":0.215},{"r":2,"t":0.4,"v":0.346},{"r":2,"t":0.8,"v":0.269},{"r":2,"t":1.2,"v":0.385},{"r":2,"t":1.6,"v":0.346},{"r":2,"t":2,"v":0.423},{"r":2,"t":2.4,"v":0.331},{"r":2,"t":2.8,"v":0.385},{"r":2,"t":3.2,"v":0.292},{"r":2,"t":3.6,"v":0.246},{"r":2,"t":4,"v":0.308},{"r":3,"t":-2,"v":0.154},{"r":3,"t":-1,"v":0.2},{"r":3,"t":0,"v":0.215},{"r":3,"t":0.5,"v":0.238},{"r":3,"t":1,"v":0.277},{"r":3,"t":1.5,"v":0.231},{"r":3,"t":2,"v":0.2},{"r":3,"t":2.5,"v":0.215},{"r":3,"t":3,"v":0.177},{"r":3,"t":3.5,"v":0.154},{"r":3,"t":4,"v":0.138}],
"gb":[{"p":"s2","t":-2,"lo":0.33,"hi":0.5},{"p":"s2","t":-1,"lo":0.12,"hi":0.35},{"p":"s2","t":0,"lo":0.33,"hi":0.6},{"p":"s2","t":1,"lo":0.4,"hi":0.62},{"p":"s2","t":2,"lo":0.27,"hi":0.47},{"p":"s2","t":3,"lo":0.3,"hi":0.52},{"p":"s2","t":4,"lo":0.27,"hi":0.42},{"p":"s3","t":-2,"lo":0.14,"hi":0.19},{"p":"s3","t":-1,"lo":0.19,"hi":0.28},{"p":"s3","t":0,"lo":0.26,"hi":0.4},{"p":"s3","t":1,"lo":0.36,"hi":0.56},{"p":"s3","t":2,"lo":0.42,"hi":0.72},{"p":"s3","t":3,"lo":0.27,"hi":0.45},{"p":"s3","t":4,"lo":0.28,"hi":0.42},{"p":"r2","t":-2,"lo":0.25,"hi":0.35},{"p":"r2","t":0,"lo":0.2,"hi":0.33},{"p":"r2","t":2,"lo":0.31,"hi":0.45},{"p":"r2","t":4,"lo":0.25,"hi":0.35}],
"gm":[{"r":1,"k":"a","t":0,"v":0.615},{"r":1,"k":"a","t":0.3,"v":0.69},{"r":1,"k":"a","t":1,"v":0.42},{"r":1,"k":"a","t":1.6,"v":0.27},{"r":1,"k":"b","t":1,"v":0.25},{"r":1,"k":"b","t":1.7,"v":0.68},{"r":1,"k":"b","t":2.2,"v":0.46},{"r":1,"k":"b","t":2.7,"v":0.25},{"r":1,"k":"c","t":2.8,"v":0.25},{"r":1,"k":"c","t":3.6,"v":0.615},{"r":1,"k":"c","t":4,"v":0.5},{"r":1,"k":"c","t":4.6,"v":0.25},{"r":1,"k":"d","t":0,"v":0.38},{"r":1,"k":"d","t":1,"v":0.3},{"r":1,"k":"d","t":2,"v":0.36},{"r":1,"k":"d","t":3,"v":0.3},{"r":1,"k":"d","t":4,"v":0.33},{"r":1,"k":"d","t":5,"v":0.27},{"r":1,"k":"e","t":1.9,"v":0.25},{"r":1,"k":"e","t":2.5,"v":0.46},{"r":1,"k":"e","t":3,"v":0.25},{"r":2,"k":"a","t":0,"v":0.5},{"r":2,"k":"a","t":0.4,"v":0.58},{"r":2,"k":"a","t":1.2,"v":0.35},{"r":2,"k":"b","t":1.5,"v":0.3},{"r":2,"k":"b","t":2.2,"v":0.62},{"r":2,"k":"b","t":2.8,"v":0.4},{"r":2,"k":"b","t":3.3,"v":0.3},{"r":2,"k":"c","t":2.9,"v":0.35},{"r":2,"k":"c","t":3.4,"v":0.92},{"r":2,"k":"c","t":4,"v":0.6},{"r":2,"k":"c","t":4.6,"v":0.35},{"r":2,"k":"d","t":3.6,"v":0.3},{"r":2,"k":"d","t":4.2,"v":0.8},{"r":2,"k":"d","t":5,"v":0.5},{"r":2,"k":"e","t":0,"v":0.4},{"r":2,"k":"e","t":1,"v":0.35},{"r":2,"k":"e","t":2,"v":0.42},{"r":2,"k":"e","t":3,"v":0.48},{"r":2,"k":"e","t":4,"v":0.5},{"r":2,"k":"e","t":5,"v":0.38},{"r":2,"k":"f","t":1.4,"v":0.27},{"r":2,"k":"f","t":2,"v":0.5},{"r":2,"k":"f","t":2.5,"v":0.65},{"r":2,"k":"f","t":3,"v":0.45},{"r":2,"k":"f","t":3.5,"v":0.3},{"r":3,"k":"a","t":0,"v":0.4},{"r":3,"k":"a","t":0.5,"v":0.6},{"r":3,"k":"a","t":1,"v":0.45},{"r":3,"k":"a","t":1.5,"v":0.25},{"r":3,"k":"b","t":1,"v":0.3},{"r":3,"k":"b","t":1.6,"v":0.68},{"r":3,"k":"b","t":2.2,"v":0.5},{"r":3,"k":"b","t":2.8,"v":0.35},{"r":3,"k":"b","t":3.4,"v":0.2},{"r":3,"k":"c","t":3,"v":0.2},{"r":3,"k":"c","t":3.6,"v":0.45},{"r":3,"k":"c","t":4,"v":0.2},{"r":3,"k":"d","t":4,"v":0.3},{"r":3,"k":"d","t":4.5,"v":0.72},{"r":3,"k":"d","t":5,"v":0.8},{"r":3,"k":"e","t":0,"v":0.25},{"r":3,"k":"e","t":1,"v":0.45},{"r":3,"k":"e","t":2,"v":0.42},{"r":3,"k":"e","t":3,"v":0.35},{"r":3,"k":"e","t":4,"v":0.3},{"r":3,"k":"e","t":5,"v":0.25}],
"gp":[{"r":1,"k":"a","t":0.4,"v":0.27},{"r":1,"k":"a","t":1,"v":0.88},{"r":1,"k":"a","t":1.4,"v":0.72},{"r":1,"k":"a","t":2,"v":0.5},{"r":1,"k":"a","t":3,"v":0.3},{"r":1,"k":"a","t":3.6,"v":0.27},{"r":1,"k":"b","t":4.5,"v":0.27},{"r":1,"k":"b","t":5,"v":0.55},{"r":3,"k":"a","t":0,"v":0.3},{"r":3,"k":"a","t":0.5,"v":0.55},{"r":3,"k":"a","t":1,"v":0.62},{"r":3,"k":"a","t":1.4,"v":0.58},{"r":3,"k":"a","t":1.8,"v":0.35},{"r":3,"k":"a","t":2.4,"v":0.2},{"r":3,"k":"b","t":4,"v":0.18},{"r":3,"k":"b","t":4.5,"v":0.4},{"r":3,"k":"b","t":5,"v":0.75}],
"g0":[{"p":"m1","t":0,"v":0.24},{"p":"m1","t":2,"v":0.26},{"p":"m1","t":3.5,"v":0.23},{"p":"m1","t":5,"v":0.25},{"p":"m2","t":0,"v":0.27},{"p":"m2","t":2,"v":0.28},{"p":"m2","t":3.5,"v":0.25},{"p":"m2","t":5,"v":0.27},{"p":"m3","t":0,"v":0.18},{"p":"m3","t":2,"v":0.17},{"p":"m3","t":3.5,"v":0.19},{"p":"m3","t":5,"v":0.17},{"p":"p1","t":0,"v":0.26},{"p":"p1","t":2,"v":0.28},{"p":"p1","t":3.5,"v":0.26},{"p":"p1","t":5,"v":0.25},{"p":"p2","t":0,"v":0.27},{"p":"p2","t":2,"v":0.29},{"p":"p2","t":3.5,"v":0.26},{"p":"p2","t":5,"v":0.28},{"p":"p3","t":0,"v":0.18},{"p":"p3","t":2,"v":0.2},{"p":"p3","t":3.5,"v":0.17},{"p":"p3","t":5,"v":0.19}],
"i":[{"g":"Missed trials","v":0.114,"hi":0.126},{"g":"Pressed trials","v":0.067,"hi":0.082}],
"k":[{"g":"Missed trials","v":0.139,"hi":0.159},{"g":"Pressed trials","v":0.152,"hi":0.176}]
},
"resolve":{"scale":{"color":"independent"}},"bounds":"flush","spacing":0,
"vconcat":[
{"bounds":"flush","spacing":0,"hconcat":[
{"width":14,"height":14,"data":{"values":[{"s":"A"}]},"mark":{"type":"text","fontWeight":"bold","fontSize":17,"color":"#111"},"encoding":{"text":{"field":"s"}}},
{"width":192,"height":14,"data":{"values":[{"s":"mPFC → NAc"}]},"mark":{"type":"text","fontSize":13.5,"color":"#2bb35c"},"encoding":{"text":{"field":"s"}}},
{"width":54,"height":14,"data":{"values":[{"s":"B"}]},"mark":{"type":"text","fontWeight":"bold","fontSize":17,"color":"#111"},"encoding":{"text":{"field":"s"}}},
{"width":140,"height":14,"data":{"values":[{"s":"mPFC → NAc"}]},"mark":{"type":"text","fontSize":13.5,"color":"#2bb35c"},"encoding":{"text":{"field":"s"}}},
{"width":44,"height":14,"data":{"values":[{"s":"C"}]},"mark":{"type":"text","fontWeight":"bold","fontSize":17,"color":"#111"},"encoding":{"text":{"field":"s"}}},
{"width":136,"height":14,"data":{"values":[{"s":"mPFC → VTA"}]},"mark":{"type":"text","fontSize":13.5,"color":"#ec2a92"},"encoding":{"text":{"field":"s"}}},
{"width":110,"height":14,"data":{"values":[{"s":"D"}]},"mark":{"type":"text","fontWeight":"bold","fontSize":17,"color":"#111"},"encoding":{"text":{"field":"s"}}},
{"width":80,"height":14,"data":{"values":[{"s":"mPFC → VTA"}]},"mark":{"type":"text","fontSize":13.5,"color":"#ec2a92"},"encoding":{"text":{"field":"s"}}}
]},
{"width":1,"height":19,"data":{"values":[]},"mark":"point"},
{"bounds":"flush","spacing":0,"hconcat":[
{"width":41,"height":1,"data":{"values":[]},"mark":"point"},
{"bounds":"flush","spacing":0,"vconcat":[
{"width":1,"height":10,"data":{"values":[]},"mark":"point"},
{"width":66,"height":74,"title":"Missed","view":{"fill":"#2b2d86"},"data":{"name":"am"},"transform":[{"calculate":"datum.t+1","as":"u"}],"mark":"rect","encoding":{"x":{"field":"t","type":"quantitative","scale":{"domain":[0,5]},"axis":null},"x2":{"field":"u"},"y":{"field":"r","type":"ordinal","scale":{"domain":[0,1,2,3,4,5,6,7,8,9,10,11,12,13]},"axis":{"values":[1,4,9,11,13],"labels":false,"tickSize":3,"domain":false,"title":"Cellsw>0","titlePadding":10}},"color":{"field":"v","type":"quantitative","legend":null,"scale":{"domain":[0,0.17,0.33,0.5,0.67,0.83,1],"range":["#2b2d86","#1565d8","#0f95cf","#20b2aa","#7fbf7b","#e9ba3f","#f8f51c"]}}}},
{"width":1,"height":4,"data":{"values":[]},"mark":"point"},
{"width":66,"height":73,"view":{"fill":"#2b2d86"},"data":{"name":"bm"},"transform":[{"calculate":"datum.t+1","as":"u"}],"mark":"rect","encoding":{"x":{"field":"t","type":"quantitative","scale":{"domain":[0,5]},"axis":{"values":[0,5],"labelExpr":"''+datum.value","labelFlush":true,"ticks":false,"domain":false,"labelPadding":1,"title":null}},"x2":{"field":"u"},"y":{"field":"r","type":"ordinal","scale":{"domain":[0,1,2,3,4,5,6,7,8,9,10,11,12,13]},"axis":{"values":[4,7,8,12,13],"labels":false,"tickSize":3,"domain":false,"title":"Cellsw<0","titlePadding":10}},"color":{"field":"v","type":"quantitative","legend":null,"scale":{"domain":[0,0.17,0.33,0.5,0.67,0.83,1],"range":["#2b2d86","#1565d8","#0f95cf","#20b2aa","#7fbf7b","#e9ba3f","#f8f51c"]}}}}
]},
{"width":72,"height":1,"data":{"values":[]},"mark":"point"},
{"bounds":"flush","spacing":0,"vconcat":[
{"width":1,"height":10,"data":{"values":[]},"mark":"point"},
{"width":65,"height":74,"title":"Pressed","view":{"fill":"#2b2d86"},"data":{"name":"ap"},"transform":[{"calculate":"datum.t+1","as":"u"}],"mark":"rect","encoding":{"x":{"field":"t","type":"quantitative","scale":{"domain":[0,5]},"axis":null},"x2":{"field":"u"},"y":{"field":"r","type":"ordinal","scale":{"domain":[0,1,2,3,4,5,6,7,8,9,10,11,12,13]},"axis":null},"color":{"field":"v","type":"quantitative","legend":null,"scale":{"domain":[0,0.17,0.33,0.5,0.67,0.83,1],"range":["#2b2d86","#1565d8","#0f95cf","#20b2aa","#7fbf7b","#e9ba3f","#f8f51c"]}}}},
{"width":1,"height":4,"data":{"values":[]},"mark":"point"},
{"width":65,"height":73,"view":{"fill":"#2b2d86"},"data":{"name":"bp"},"transform":[{"calculate":"datum.t+1","as":"u"}],"mark":"rect","encoding":{"x":{"field":"t","type":"quantitative","scale":{"domain":[0,5]},"axis":{"values":[0,5],"labelExpr":"''+datum.value","labelFlush":true,"ticks":false,"domain":false,"labelPadding":1,"title":null}},"x2":{"field":"u"},"y":{"field":"r","type":"ordinal","scale":{"domain":[0,1,2,3,4,5,6,7,8,9,10,11,12,13]},"axis":null},"color":{"field":"v","type":"quantitative","legend":null,"scale":{"domain":[0,0.17,0.33,0.5,0.67,0.83,1],"range":["#2b2d86","#1565d8","#0f95cf","#20b2aa","#7fbf7b","#e9ba3f","#f8f51c"]}}}}
]},
{"width":69,"height":1,"data":{"values":[]},"mark":"point"},
{"bounds":"flush","spacing":0,"vconcat":[
{"width":1,"height":11,"data":{"values":[]},"mark":"point"},
{"width":8,"height":150,"data":{"name":"c1"},"mark":"rect","encoding":{"y":{"field":"v","type":"ordinal","sort":"descending","axis":{"orient":"right","values":[0,1],"ticks":false,"domain":false,"labelPadding":3,"title":"Normalized z-score","titleAngle":90,"titleX":8,"titleY":75}},"color":{"field":"v","type":"quantitative","legend":null,"scale":{"domain":[0,0.17,0.33,0.5,0.67,0.83,1],"range":["#2b2d86","#1565d8","#0f95cf","#20b2aa","#7fbf7b","#e9ba3f","#f8f51c"]}}}}
]},
{"width":84,"height":1,"data":{"values":[]},"mark":"point"},
{"width":128,"height":158,"data":{"name":"b"},"encoding":{"x":{"field":"m","type":"quantitative","scale":{"domain":[0.5,5.5]},"axis":{"values":[1,2,3,4,5],"labelExpr":"''+datum.value","title":"Mouse","labelFontSize":14,"titleFontSize":14}}},"layer":[
{"mark":{"type":"rule","color":"#222","strokeWidth":1.5},"encoding":{"y":{"field":"lo","type":"quantitative","scale":{"domain":[0,1]},"axis":{"values":[0,0.2,0.4,0.6,0.8,1],"labelExpr":"''+datum.value","title":"Classification accuracy","labelFontSize":14.5,"titleFontSize":14,"titlePadding":3}},"y2":{"field":"hi"}}},
{"mark":{"type":"tick","orient":"horizontal","size":8,"thickness":1.5,"color":"#222"},"encoding":{"y":{"field":"lo","type":"quantitative","scale":{"domain":[0,1]}}}},
{"mark":{"type":"tick","orient":"horizontal","size":8,"thickness":1.5,"color":"#222"},"encoding":{"y":{"field":"hi","type":"quantitative","scale":{"domain":[0,1]}}}},
{"data":{"values":[{}]},"mark":{"type":"rule","color":"#222","strokeDash":[4,3],"strokeWidth":1.3},"encoding":{"x":null,"y":{"datum":0.5,"scale":{"domain":[0,1]}}}},
{"mark":{"type":"circle","size":30,"opacity":1,"color":"#1f1f1f"},"encoding":{"y":{"field":"s","type":"quantitative","scale":{"domain":[0,1]}}}},
{"mark":{"type":"circle","size":30,"opacity":1,"color":"#22ab57"},"encoding":{"y":{"field":"d","type":"quantitative","scale":{"domain":[0,1]}}}},
{"mark":{"type":"text","text":"*","fontSize":20,"dy":4},"encoding":{"y":{"field":"st","type":"quantitative","scale":{"domain":[0,1]}}}},
{"data":{"values":[{}]},"mark":{"type":"text","text":"Data","align":"left","fontSize":14,"color":"#2bb35c"},"encoding":{"x":{"datum":0.74},"y":{"datum":0.18,"scale":{"domain":[0,1]}}}},
{"data":{"values":[{}]},"mark":{"type":"text","text":"Shuffles","align":"left","fontSize":14},"encoding":{"x":{"datum":0.74},"y":{"datum":0.077,"scale":{"domain":[0,1]}}}}
]},
{"width":50,"height":1,"data":{"values":[]},"mark":"point"},
{"bounds":"flush","spacing":0,"vconcat":[
{"width":1,"height":11,"data":{"values":[]},"mark":"point"},
{"width":65,"height":72,"title":"Missed","view":{"fill":"#2b2d86"},"data":{"name":"cm"},"transform":[{"calculate":"datum.t+1","as":"u"}],"mark":"rect","encoding":{"x":{"field":"t","type":"quantitative","scale":{"domain":[0,5]},"axis":null},"x2":{"field":"u"},"y":{"field":"r","type":"ordinal","scale":{"domain":[0,1,2,3,4,5,6,7,8,9,10,11,12,13]},"axis":{"values":[5,8,10,12,13],"labels":false,"tickSize":3,"domain":false,"title":"Cellsw>0","titlePadding":10}},"color":{"field":"v","type":"quantitative","legend":null,"scale":{"domain":[0,0.17,0.33,0.5,0.67,0.83,1],"range":["#2b2d86","#1565d8","#0f95cf","#20b2aa","#7fbf7b","#e9ba3f","#f8f51c"]}}}},
{"width":1,"height":6,"data":{"values":[]},"mark":"point"},
{"width":65,"height":71,"view":{"fill":"#2b2d86"},"data":{"name":"dm"},"transform":[{"calculate":"datum.t+1","as":"u"}],"mark":"rect","encoding":{"x":{"field":"t","type":"quantitative","scale":{"domain":[0,5]},"axis":{"values":[0,5],"labelExpr":"''+datum.value","labelFlush":true,"ticks":false,"domain":false,"labelPadding":1,"title":null}},"x2":{"field":"u"},"y":{"field":"r","type":"ordinal","scale":{"domain":[0,1,2,3,4,5,6,7,8,9,10,11,12,13]},"axis":{"values":[5,7,10,13],"labels":false,"tickSize":3,"domain":false,"title":"Cellsw<0","titlePadding":10}},"color":{"field":"v","type":"quantitative","legend":null,"scale":{"domain":[0,0.17,0.33,0.5,0.67,0.83,1],"range":["#2b2d86","#1565d8","#0f95cf","#20b2aa","#7fbf7b","#e9ba3f","#f8f51c"]}}}}
]},
{"width":72,"height":1,"data":{"values":[]},"mark":"point"},
{"bounds":"flush","spacing":0,"vconcat":[
{"width":1,"height":11,"data":{"values":[]},"mark":"point"},
{"width":64,"height":72,"title":"Pressed","view":{"fill":"#2b2d86"},"data":{"name":"cp"},"transform":[{"calculate":"datum.t+1","as":"u"}],"mark":"rect","encoding":{"x":{"field":"t","type":"quantitative","scale":{"domain":[0,5]},"axis":null},"x2":{"field":"u"},"y":{"field":"r","type":"ordinal","scale":{"domain":[0,1,2,3,4,5,6,7,8,9,10,11,12,13]},"axis":{"values":[5,8,10,12,13],"labels":false,"tickSize":3,"domain":false,"title":null}},"color":{"field":"v","type":"quantitative","legend":null,"scale":{"domain":[0,0.17,0.33,0.5,0.67,0.83,1],"range":["#2b2d86","#1565d8","#0f95cf","#20b2aa","#7fbf7b","#e9ba3f","#f8f51c"]}}}},
{"width":1,"height":6,"data":{"values":[]},"mark":"point"},
{"width":64,"height":71,"view":{"fill":"#2b2d86"},"data":{"name":"dp"},"transform":[{"calculate":"datum.t+1","as":"u"}],"mark":"rect","encoding":{"x":{"field":"t","type":"quantitative","scale":{"domain":[0,5]},"axis":{"values":[0,5],"labelExpr":"''+datum.value","labelFlush":true,"ticks":false,"domain":false,"labelPadding":1,"title":null}},"x2":{"field":"u"},"y":{"field":"r","type":"ordinal","scale":{"domain":[0,1,2,3,4,5,6,7,8,9,10,11,12,13]},"axis":{"values":[5,7,10,13],"labels":false,"tickSize":3,"domain":false,"title":null}},"color":{"field":"v","type":"quantitative","legend":null,"scale":{"domain":[0,0.17,0.33,0.5,0.67,0.83,1],"range":["#2b2d86","#1565d8","#0f95cf","#20b2aa","#7fbf7b","#e9ba3f","#f8f51c"]}}}}
]},
{"width":68,"height":1,"data":{"values":[]},"mark":"point"},
{"bounds":"flush","spacing":0,"vconcat":[
{"width":1,"height":11,"data":{"values":[]},"mark":"point"},
{"width":8,"height":150,"data":{"name":"c1"},"mark":"rect","encoding":{"y":{"field":"v","type":"ordinal","sort":"descending","axis":{"orient":"right","values":[0,1],"ticks":false,"domain":false,"labelPadding":3,"title":"Normalized z-score","titleAngle":90,"titleX":8,"titleY":75}},"color":{"field":"v","type":"quantitative","legend":null,"scale":{"domain":[0,0.17,0.33,0.5,0.67,0.83,1],"range":["#2b2d86","#1565d8","#0f95cf","#20b2aa","#7fbf7b","#e9ba3f","#f8f51c"]}}}}
]},
{"width":84,"height":1,"data":{"values":[]},"mark":"point"},
{"width":130,"height":158,"data":{"name":"d"},"encoding":{"x":{"field":"m","type":"quantitative","scale":{"domain":[0.5,5.6]},"axis":{"values":[1,2,3,4,5],"labelExpr":"''+datum.value","title":"Mouse","labelFontSize":14,"titleFontSize":14}}},"layer":[
{"mark":{"type":"rule","color":"#222","strokeWidth":1.5},"encoding":{"y":{"field":"lo","type":"quantitative","scale":{"domain":[0,1]},"axis":{"values":[0,0.2,0.4,0.6,0.8,1],"labelExpr":"''+datum.value","title":"Classification accuracy","labelFontSize":14.5,"titleFontSize":14,"titlePadding":3}},"y2":{"field":"hi"}}},
{"mark":{"type":"tick","orient":"horizontal","size":8,"thickness":1.5,"color":"#222"},"encoding":{"y":{"field":"lo","type":"quantitative","scale":{"domain":[0,1]}}}},
{"mark":{"type":"tick","orient":"horizontal","size":8,"thickness":1.5,"color":"#222"},"encoding":{"y":{"field":"hi","type":"quantitative","scale":{"domain":[0,1]}}}},
{"data":{"values":[{}]},"mark":{"type":"rule","color":"#222","strokeDash":[4,3],"strokeWidth":1.3},"encoding":{"x":null,"y":{"datum":0.5,"scale":{"domain":[0,1]}}}},
{"mark":{"type":"circle","size":30,"opacity":1,"color":"#e8198b"},"encoding":{"y":{"field":"d","type":"quantitative","scale":{"domain":[0,1]}}}},
{"mark":{"type":"circle","size":30,"opacity":1,"color":"#1f1f1f"},"encoding":{"y":{"field":"s","type":"quantitative","scale":{"domain":[0,1]}}}},
{"transform":[{"filter":"datum.st>0"}],"mark":{"type":"text","text":"*","fontSize":20,"dy":4},"encoding":{"y":{"field":"st","type":"quantitative","scale":{"domain":[0,1]}}}},
{"data":{"values":[{}]},"mark":{"type":"text","text":"Data","align":"left","fontSize":14,"color":"#ec2a92"},"encoding":{"x":{"datum":0.9},"y":{"datum":0.18,"scale":{"domain":[0,1]}}}},
{"data":{"values":[{}]},"mark":{"type":"text","text":"Shuffles","align":"left","fontSize":14},"encoding":{"x":{"datum":0.9},"y":{"datum":0.077,"scale":{"domain":[0,1]}}}}
]}
]},
{"width":1,"height":176,"data":{"values":[]},"mark":"point"},
{"bounds":"flush","spacing":0,"hconcat":[
{"width":222,"height":16,"data":{"values":[{"s":"Time rel to tone (s)"}]},"mark":{"type":"text","fontSize":13.5},"encoding":{"text":{"field":"s"}}},
{"width":580,"height":16,"data":{"values":[{"s":"Time rel to tone (s)"}]},"mark":{"type":"text","fontSize":13.5},"encoding":{"text":{"field":"s"}}}
]},
{"width":1,"height":25,"data":{"values":[]},"mark":"point"},
{"bounds":"flush","spacing":0,"hconcat":[
{"width":12,"height":16,"data":{"values":[{"s":"E"}]},"mark":{"type":"text","fontWeight":"bold","fontSize":17,"color":"#111"},"encoding":{"text":{"field":"s"}}},
{"width":42,"height":1,"data":{"values":[]},"mark":"point"},
{"width":200,"height":16,"data":{"values":[{"s":"mPFC → NAc"}]},"mark":{"type":"text","fontSize":13.5,"color":"#2bb35c"},"encoding":{"text":{"field":"s"}}},
{"width":48,"height":16,"data":{"values":[{"s":"F"}]},"mark":{"type":"text","fontWeight":"bold","fontSize":17,"color":"#111"},"encoding":{"text":{"field":"s"}}},
{"width":218,"height":16,"data":{"values":[{"s":"mPFC → NAc"}]},"mark":{"type":"text","fontSize":13.5,"color":"#2bb35c"},"encoding":{"text":{"field":"s"}}},
{"width":60,"height":16,"data":{"values":[{"s":"G"}]},"mark":{"type":"text","fontWeight":"bold","fontSize":17,"color":"#111"},"encoding":{"text":{"field":"s"}}},
{"width":222,"height":16,"data":{"values":[{"s":"mPFC → NAc"}]},"mark":{"type":"text","fontSize":13.5,"color":"#2bb35c"},"encoding":{"text":{"field":"s"}}}
]},
{"width":1,"height":18,"data":{"values":[]},"mark":"point"},
{"bounds":"flush","spacing":0,"hconcat":[
{"width":43,"height":1,"data":{"values":[]},"mark":"point"},
{"width":76,"height":145,"view":{"fill":"#2b2d86"},"layer":[
{"data":{"name":"eh"},"transform":[{"calculate":"datum.t+0.5","as":"u"}],"mark":"rect","encoding":{"x":{"field":"t","type":"quantitative","scale":{"domain":[-2,4]},"axis":{"values":[-2,0,4],"labelExpr":"''+datum.value","ticks":false,"domain":false,"labelPadding":4,"title":null}},"x2":{"field":"u"},"y":{"field":"r","type":"ordinal","scale":{"domain":[0,1,2,3,4,5,6,7,8,9,10,11,12,13,14,15,16,17,18,19,20,21,22,23]},"axis":{"values":[3,8,14,19,23],"labels":false,"tickSize":3,"domain":false,"title":"Missed-cells","titlePadding":12}},"color":{"field":"v","type":"quantitative","legend":null,"scale":{"domain":[0,0.255,0.495,0.75,1.005,1.245,1.5],"range":["#2b2d86","#1565d8","#0f95cf","#20b2aa","#7fbf7b","#e9ba3f","#f8f51c"]}}}},
{"data":{"values":[{"t":-1},{"t":0}]},"mark":{"type":"rule","color":"white","strokeDash":[3,3],"strokeWidth":1.3},"encoding":{"x":{"field":"t","type":"quantitative","scale":{"domain":[-2,4]}}}}
]},
{"width":4,"height":1,"data":{"values":[]},"mark":"point"},
{"width":7,"height":145,"data":{"name":"c2"},"mark":"rect","encoding":{"y":{"field":"v","type":"ordinal","sort":"descending","axis":{"orient":"right","values":[0,1.5],"ticks":false,"domain":false,"labelPadding":3,"title":"Z-score","titleAngle":90,"titleX":7,"titleY":74}},"color":{"field":"v","type":"quantitative","legend":null,"scale":{"domain":[0,0.255,0.495,0.75,1.005,1.245,1.5],"range":["#2b2d86","#1565d8","#0f95cf","#20b2aa","#7fbf7b","#e9ba3f","#f8f51c"]}}}},
{"width":23,"height":1,"data":{"values":[]},"mark":"point"},
{"width":98,"height":145,"layer":[
{"data":{"name":"eb"},"mark":{"type":"area","color":"#d9e8da"},"encoding":{"x":{"field":"t","type":"quantitative","scale":{"domain":[-2,4]},"axis":{"values":[-2,0,4],"labelExpr":"''+datum.value","title":null,"labelPadding":6}},"y":{"field":"hi","type":"quantitative","scale":{"domain":[0,1]},"axis":null},"y2":{"field":"lo"}}},
{"data":{"values":[{"t":-1},{"t":0}]},"mark":{"type":"rule","color":"#333","strokeDash":[3,3],"strokeWidth":1.4},"encoding":{"x":{"field":"t","type":"quantitative","scale":{"domain":[-2,4]}}}},
{"data":{"name":"el"},"mark":{"type":"line","color":"#2e9e57","strokeWidth":1.5},"encoding":{"x":{"field":"t","type":"quantitative","scale":{"domain":[-2,4]}},"y":{"field":"v","type":"quantitative","scale":{"domain":[0,1]},"axis":null}}},
{"data":{"values":[{}]},"mark":{"type":"rule","color":"#222","strokeWidth":1.2},"encoding":{"x":{"datum":3.96,"scale":{"domain":[-2,4]}},"y":{"datum":0.988,"scale":{"domain":[0,1]},"axis":null},"y2":{"datum":0.845}}}
]},
{"width":52,"height":1,"data":{"values":[]},"mark":"point"},
{"width":77,"height":145,"view":{"fill":"#2b2d86"},"layer":[
{"data":{"name":"fh"},"transform":[{"calculate":"datum.t+0.5","as":"u"}],"mark":"rect","encoding":{"x":{"field":"t","type":"quantitative","scale":{"domain":[-2,4]},"axis":{"values":[-2,0,4],"labelExpr":"''+datum.value","ticks":false,"domain":false,"labelPadding":4,"title":null}},"x2":{"field":"u"},"y":{"field":"r","type":"ordinal","scale":{"domain":[0,1,2,3,4,5,6,7,8,9,10,11,12,13,14,15,16,17,18,19,20,21,22,23]},"axis":{"values":[5,12,13,20,23],"labels":false,"tickSize":3,"domain":false,"title":"Pressed-cells","titlePadding":12}},"color":{"field":"v","type":"quantitative","legend":null,"scale":{"domain":[0,0.255,0.495,0.75,1.005,1.245,1.5],"range":["#2b2d86","#1565d8","#0f95cf","#20b2aa","#7fbf7b","#e9ba3f","#f8f51c"]}}}},
{"data":{"values":[{"t":-1},{"t":0}]},"mark":{"type":"rule","color":"white","strokeDash":[3,3],"strokeWidth":1.3},"encoding":{"x":{"field":"t","type":"quantitative","scale":{"domain":[-2,4]}}}}
]},
{"width":4,"height":1,"data":{"values":[]},"mark":"point"},
{"width":7,"height":145,"data":{"name":"c2"},"mark":"rect","encoding":{"y":{"field":"v","type":"ordinal","sort":"descending","axis":{"orient":"right","values":[0,1.5],"ticks":false,"domain":false,"labelPadding":3,"title":"Z-score","titleAngle":90,"titleX":7,"titleY":74}},"color":{"field":"v","type":"quantitative","legend":null,"scale":{"domain":[0,0.255,0.495,0.75,1.005,1.245,1.5],"range":["#2b2d86","#1565d8","#0f95cf","#20b2aa","#7fbf7b","#e9ba3f","#f8f51c"]}}}},
{"width":23,"height":1,"data":{"values":[]},"mark":"point"},
{"width":99,"height":145,"layer":[
{"data":{"name":"fb"},"mark":{"type":"area","color":"#d9e8da"},"encoding":{"x":{"field":"t","type":"quantitative","scale":{"domain":[-2,4]},"axis":{"values":[-2,0,4],"labelExpr":"''+datum.value","title":null,"labelPadding":6}},"y":{"field":"hi","type":"quantitative","scale":{"domain":[0,1]},"axis":null},"y2":{"field":"lo"}}},
{"data":{"values":[{"t":-1},{"t":0}]},"mark":{"type":"rule","color":"#333","strokeDash":[3,3],"strokeWidth":1.4},"encoding":{"x":{"field":"t","type":"quantitative","scale":{"domain":[-2,4]}}}},
{"data":{"name":"fl"},"mark":{"type":"line","color":"#2e9e57","strokeWidth":1.5},"encoding":{"x":{"field":"t","type":"quantitative","scale":{"domain":[-2,4]}},"y":{"field":"v","type":"quantitative","scale":{"domain":[0,1]},"axis":null}}},
{"data":{"values":[{}]},"mark":{"type":"rule","color":"#222","strokeWidth":1.2},"encoding":{"x":{"datum":3.96,"scale":{"domain":[-2,4]}},"y":{"datum":0.982,"scale":{"domain":[0,1]},"axis":null},"y2":{"datum":0.85}}}
]},
{"width":52,"height":1,"data":{"values":[]},"mark":"point"},
{"bounds":"flush","spacing":0,"vconcat":[
{"width":1,"height":14,"data":{"values":[]},"mark":"point"},
{"width":47,"height":43,"title":"Shock","layer":[
{"data":{"values":[{"t":-1},{"t":0}]},"mark":{"type":"rule","color":"#555","strokeDash":[3,3]},"encoding":{"x":{"field":"t","type":"quantitative","scale":{"domain":[-2,4]},"axis":null}}},
{"data":{"name":"gs"},"transform":[{"filter":"datum.r==1"}],"mark":{"type":"line","color":"#333","strokeWidth":1.5},"encoding":{"x":{"field":"t","type":"quantitative","scale":{"domain":[-2,4]},"axis":null},"y":{"field":"v","type":"quantitative","scale":{"domain":[0,1]},"axis":null}}},
{"data":{"values":[{}]},"mark":{"type":"rule","color":"#444","strokeWidth":1.5},"encoding":{"x":{"datum":4.94,"scale":{"domain":[-2,4]},"axis":null},"y":{"datum":0.385,"scale":{"domain":[0,1]},"axis":null},"y2":{"datum":0.154}}}
]},
{"width":47,"height":44,"layer":[
{"data":{"values":[{"t":-1},{"t":0}]},"mark":{"type":"rule","color":"#555","strokeDash":[3,3]},"encoding":{"x":{"field":"t","type":"quantitative","scale":{"domain":[-2,4]},"axis":null}}},
{"data":{"name":"gb"},"transform":[{"filter":"datum.p=='s2'"}],"mark":{"type":"area","color":"#d3d3d3"},"encoding":{"x":{"field":"t","type":"quantitative","scale":{"domain":[-2,4]},"axis":null},"y":{"field":"hi","type":"quantitative","scale":{"domain":[0,1]},"axis":null},"y2":{"field":"lo"}}},
{"data":{"name":"gs"},"transform":[{"filter":"datum.r==2"}],"mark":{"type":"line","color":"#333","strokeWidth":1.5},"encoding":{"x":{"field":"t","type":"quantitative","scale":{"domain":[-2,4]},"axis":null},"y":{"field":"v","type":"quantitative","scale":{"domain":[0,1]},"axis":null}}},
{"data":{"values":[{}]},"mark":{"type":"rule","color":"#444","strokeWidth":1.5},"encoding":{"x":{"datum":4.94,"scale":{"domain":[-2,4]},"axis":null},"y":{"datum":0.69,"scale":{"domain":[0,1]},"axis":null},"y2":{"datum":-0.15}}}
]},
{"width":47,"height":43,"layer":[
{"data":{"values":[{"t":-1},{"t":0}]},"mark":{"type":"rule","color":"#555","strokeDash":[3,3]},"encoding":{"x":{"field":"t","type":"quantitative","scale":{"domain":[-2,4]}}}},
{"data":{"name":"gb"},"transform":[{"filter":"datum.p=='s3'"}],"mark":{"type":"area","color":"#d3d3d3"},"encoding":{"x":{"field":"t","type":"quantitative","scale":{"domain":[-2,4]}},"y":{"field":"hi","type":"quantitative","scale":{"domain":[0,1]},"axis":null},"y2":{"field":"lo"}}},
{"data":{"name":"gs"},"transform":[{"filter":"datum.r==3"}],"mark":{"type":"line","color":"#333","strokeWidth":1.5},"encoding":{"x":{"field":"t","type":"quantitative","scale":{"domain":[-2,4]},"axis":{"values":[-2,0,4],"labelExpr":"''+datum.value","title":null,"labelPadding":6}},"y":{"field":"v","type":"quantitative","scale":{"domain":[0,1]},"axis":null}}},
{"data":{"values":[{}]},"mark":{"type":"rule","color":"#444","strokeWidth":1.5},"encoding":{"x":{"datum":4.94,"scale":{"domain":[-2,4]}},"y":{"datum":0.41,"scale":{"domain":[0,1]},"axis":null},"y2":{"datum":-0.05}}}
]}
]},
{"width":61,"height":1,"data":{"values":[]},"mark":"point"},
{"bounds":"flush","spacing":0,"vconcat":[
{"width":1,"height":14,"data":{"values":[]},"mark":"point"},
{"width":47,"height":43,"title":"Reward","layer":[
{"data":{"values":[{"t":-1},{"t":0}]},"mark":{"type":"rule","color":"#555","strokeDash":[3,3]},"encoding":{"x":{"field":"t","type":"quantitative","scale":{"domain":[-2,4]},"axis":null}}},
{"data":{"name":"gr"},"transform":[{"filter":"datum.r==1"}],"mark":{"type":"line","color":"#333","strokeWidth":1.5},"encoding":{"x":{"field":"t","type":"quantitative","scale":{"domain":[-2,4]},"axis":null},"y":{"field":"v","type":"quantitative","scale":{"domain":[0,1]},"axis":null}}}
]},
{"width":47,"height":44,"layer":[
{"data":{"values":[{"t":-1},{"t":0}]},"mark":{"type":"rule","color":"#555","strokeDash":[3,3]},"encoding":{"x":{"field":"t","type":"quantitative","scale":{"domain":[-2,4]},"axis":null}}},
{"data":{"name":"gb"},"transform":[{"filter":"datum.p=='r2'"}],"mark":{"type":"area","color":"#d3d3d3"},"encoding":{"x":{"field":"t","type":"quantitative","scale":{"domain":[-2,4]},"axis":null},"y":{"field":"hi","type":"quantitative","scale":{"domain":[0,1]},"axis":null},"y2":{"field":"lo"}}},
{"data":{"name":"gr"},"transform":[{"filter":"datum.r==2"}],"mark":{"type":"line","color":"#333","strokeWidth":1.5},"encoding":{"x":{"field":"t","type":"quantitative","scale":{"domain":[-2,4]},"axis":null},"y":{"field":"v","type":"quantitative","scale":{"domain":[0,1]},"axis":null}}}
]},
{"width":47,"height":43,"layer":[
{"data":{"values":[{"t":-1},{"t":0}]},"mark":{"type":"rule","color":"#555","strokeDash":[3,3]},"encoding":{"x":{"field":"t","type":"quantitative","scale":{"domain":[-2,4]}}}},
{"data":{"name":"gr"},"transform":[{"filter":"datum.r==3"}],"mark":{"type":"line","color":"#333","strokeWidth":1.5},"encoding":{"x":{"field":"t","type":"quantitative","scale":{"domain":[-2,4]},"axis":{"values":[-2,0,4],"labelExpr":"''+datum.value","title":null,"labelPadding":6}},"y":{"field":"v","type":"quantitative","scale":{"domain":[0,1]},"axis":null}}}
]}
]},
{"width":61,"height":1,"data":{"values":[]},"mark":"point"},
{"bounds":"flush","spacing":0,"vconcat":[
{"width":1,"height":14,"data":{"values":[]},"mark":"point"},
{"width":47,"height":43,"title":{"text":"Missed","color":"#ed1c24"},"layer":[
{"data":{"name":"gm"},"transform":[{"filter":"datum.r==1"}],"mark":{"type":"line","color":"#ed1c24","strokeWidth":1},"encoding":{"detail":{"field":"k"},"x":{"field":"t","type":"quantitative","scale":{"domain":[0,5]},"axis":null},"y":{"field":"v","type":"quantitative","scale":{"domain":[0,1]},"axis":null}}},
{"data":{"name":"g0"},"transform":[{"filter":"datum.p=='m1'"}],"mark":{"type":"line","color":"#ed1c24","strokeWidth":4},"encoding":{"x":{"field":"t","type":"quantitative","scale":{"domain":[0,5]},"axis":null},"y":{"field":"v","type":"quantitative","scale":{"domain":[0,1]},"axis":null}}},
{"data":{"values":[{}]},"mark":{"type":"rule","color":"#444","strokeWidth":1.5},"encoding":{"x":{"datum":5.86,"scale":{"domain":[0,5]},"axis":null},"y":{"datum":0.29,"scale":{"domain":[0,1]},"axis":null},"y2":{"datum":0.13}}}
]},
{"width":47,"height":44,"layer":[
{"data":{"name":"gm"},"transform":[{"filter":"datum.r==2"}],"mark":{"type":"line","color":"#ed1c24","strokeWidth":1},"encoding":{"detail":{"field":"k"},"x":{"field":"t","type":"quantitative","scale":{"domain":[0,5]},"axis":null},"y":{"field":"v","type":"quantitative","scale":{"domain":[0,1]},"axis":null}}},
{"data":{"name":"g0"},"transform":[{"filter":"datum.p=='m2'"}],"mark":{"type":"line","color":"#ed1c24","strokeWidth":4},"encoding":{"x":{"field":"t","type":"quantitative","scale":{"domain":[0,5]},"axis":null},"y":{"field":"v","type":"quantitative","scale":{"domain":[0,1]},"axis":null}}},
{"data":{"values":[{}]},"mark":{"type":"rule","color":"#444","strokeWidth":1.5},"encoding":{"x":{"datum":5.86,"scale":{"domain":[0,5]},"axis":null},"y":{"datum":0.32,"scale":{"domain":[0,1]},"axis":null},"y2":{"datum":0.13}}}
]},
{"width":47,"height":43,"layer":[
{"data":{"name":"gm"},"transform":[{"filter":"datum.r==3"}],"mark":{"type":"line","color":"#ed1c24","strokeWidth":1},"encoding":{"detail":{"field":"k"},"x":{"field":"t","type":"quantitative","scale":{"domain":[0,5]},"axis":{"values":[0,5],"labelExpr":"''+datum.value","title":null,"labelPadding":6}},"y":{"field":"v","type":"quantitative","scale":{"domain":[0,1]},"axis":null}}},
{"data":{"name":"g0"},"transform":[{"filter":"datum.p=='m3'"}],"mark":{"type":"line","color":"#ed1c24","strokeWidth":4},"encoding":{"x":{"field":"t","type":"quantitative","scale":{"domain":[0,5]}},"y":{"field":"v","type":"quantitative","scale":{"domain":[0,1]},"axis":null}}},
{"data":{"values":[{}]},"mark":{"type":"rule","color":"#444","strokeWidth":1.5},"encoding":{"x":{"datum":5.86,"scale":{"domain":[0,5]}},"y":{"datum":0.24,"scale":{"domain":[0,1]},"axis":null},"y2":{"datum":0.08}}}
]}
]},
{"width":61,"height":1,"data":{"values":[]},"mark":"point"},
{"bounds":"flush","spacing":0,"vconcat":[
{"width":1,"height":14,"data":{"values":[]},"mark":"point"},
{"width":47,"height":43,"title":{"text":"Pressed","color":"#2b4aa8"},"layer":[
{"data":{"name":"gp"},"transform":[{"filter":"datum.r==1"}],"mark":{"type":"line","color":"#2b4aa8","strokeWidth":1},"encoding":{"detail":{"field":"k"},"x":{"field":"t","type":"quantitative","scale":{"domain":[0,5]},"axis":null},"y":{"field":"v","type":"quantitative","scale":{"domain":[0,1]},"axis":null}}},
{"data":{"name":"g0"},"transform":[{"filter":"datum.p=='p1'"}],"mark":{"type":"line","color":"#2b4aa8","strokeWidth":3.5},"encoding":{"x":{"field":"t","type":"quantitative","scale":{"domain":[0,5]},"axis":null},"y":{"field":"v","type":"quantitative","scale":{"domain":[0,1]},"axis":null}}}
]},
{"width":47,"height":44,"layer":[
{"data":{"name":"g0"},"transform":[{"filter":"datum.p=='p2'"}],"mark":{"type":"line","color":"#2b4aa8","strokeWidth":3},"encoding":{"x":{"field":"t","type":"quantitative","scale":{"domain":[0,5]},"axis":null},"y":{"field":"v","type":"quantitative","scale":{"domain":[0,1]},"axis":null}}}
]},
{"width":47,"height":43,"layer":[
{"data":{"name":"gp"},"transform":[{"filter":"datum.r==3"}],"mark":{"type":"line","color":"#2b4aa8","strokeWidth":1},"encoding":{"detail":{"field":"k"},"x":{"field":"t","type":"quantitative","scale":{"domain":[0,5]},"axis":{"values":[0,5],"labelExpr":"''+datum.value","title":null,"labelPadding":6}},"y":{"field":"v","type":"quantitative","scale":{"domain":[0,1]},"axis":null}}},
{"data":{"name":"g0"},"transform":[{"filter":"datum.p=='p3'"}],"mark":{"type":"line","color":"#2b4aa8","strokeWidth":4},"encoding":{"x":{"field":"t","type":"quantitative","scale":{"domain":[0,5]}},"y":{"field":"v","type":"quantitative","scale":{"domain":[0,1]},"axis":null}}}
]}
]}
]},
{"width":1,"height":163,"data":{"values":[]},"mark":"point"},
{"bounds":"flush","spacing":0,"hconcat":[
{"width":288,"height":16,"data":{"values":[{"s":"Time rel to shock (s)"}]},"mark":{"type":"text","fontSize":13.5},"encoding":{"text":{"field":"s"}}},
{"width":234,"height":16,"data":{"values":[{"s":"Time rel to shock (s)"}]},"mark":{"type":"text","fontSize":13.5},"encoding":{"text":{"field":"s"}}},
{"width":59,"height":1,"data":{"values":[]},"mark":"point"},
{"width":200,"height":16,"data":{"values":[{"s":"Time rel to shock/reward/tone (s)"}]},"mark":{"type":"text","fontSize":13.5},"encoding":{"text":{"field":"s"}}}
]},
{"width":1,"height":25,"data":{"values":[]},"mark":"point"},
{"bounds":"flush","spacing":0,"hconcat":[
{"width":12,"height":16,"data":{"values":[{"s":"H"}]},"mark":{"type":"text","fontWeight":"bold","fontSize":17,"color":"#111"},"encoding":{"text":{"field":"s"}}},
{"width":188,"height":16,"data":{"values":[{"s":"mPFC → NAc"}]},"mark":{"type":"text","fontSize":13.5,"color":"#2bb35c"},"encoding":{"text":{"field":"s"}}},
{"width":60,"height":16,"data":{"values":[{"s":"I"}]},"mark":{"type":"text","fontWeight":"bold","fontSize":17,"color":"#111"},"encoding":{"text":{"field":"s"}}},
{"width":146,"height":16,"data":{"values":[{"s":"mPFC → NAc"}]},"mark":{"type":"text","fontSize":13.5,"color":"#2bb35c"},"encoding":{"text":{"field":"s"}}},
{"width":24,"height":16,"data":{"values":[{"s":"J"}]},"mark":{"type":"text","fontWeight":"bold","fontSize":17,"color":"#111"},"encoding":{"text":{"field":"s"}}},
{"width":146,"height":16,"data":{"values":[{"s":"mPFC → VTA"}]},"mark":{"type":"text","fontSize":13.5,"color":"#ec2a92"},"encoding":{"text":{"field":"s"}}},
{"width":102,"height":16,"data":{"values":[{"s":"K"}]},"mark":{"type":"text","fontWeight":"bold","fontSize":17,"color":"#111"},"encoding":{"text":{"field":"s"}}},
{"width":108,"height":16,"data":{"values":[{"s":"mPFC → VTA"}]},"mark":{"type":"text","fontSize":13.5,"color":"#ec2a92"},"encoding":{"text":{"field":"s"}}}
]},
{"width":1,"height":34,"data":{"values":[]},"mark":"point"},
{"bounds":"flush","spacing":0,"hconcat":[
{"width":32,"height":1,"data":{"values":[]},"mark":"point"},
{"width":137,"height":157,"title":"Missed - pressed trials","layer":[
{"data":{"name":"hh"},"transform":[{"calculate":"datum.t+1","as":"u"}],"mark":"rect","encoding":{"x":{"field":"t","type":"quantitative","scale":{"domain":[0,5]},"axis":{"values":[0,5],"labelExpr":"''+datum.value","ticks":false,"domain":false,"labelPadding":2,"title":null}},"x2":{"field":"u"},"y":{"field":"r","type":"ordinal","scale":{"domain":[0,1,2,3,4,5,6,7,8,9,10,11,12,13,14,15,16,17,18,19,20,21,22,23]},"axis":{"labels":false,"ticks":false,"domain":false,"title":"Shock-cells","titlePadding":4}},"color":{"field":"v","type":"quantitative","legend":null,"scale":{"domain":[-1.1,0,1.1],"interpolate":"rgb","range":["#20409a","#ffffff","#ed1c24"]}}}},
{"data":{"values":[{"r":8},{"r":21}]},"mark":{"type":"rule","color":"#222","strokeWidth":1.3},"encoding":{"y":{"field":"r","type":"ordinal","bandPosition":0,"scale":{"domain":[0,1,2,3,4,5,6,7,8,9,10,11,12,13,14,15,16,17,18,19,20,21,22,23]},"axis":null}}}
]},
{"width":5,"height":1,"data":{"values":[]},"mark":"point"},
{"width":10,"height":157,"data":{"name":"c3"},"mark":"rect","encoding":{"y":{"field":"v","type":"ordinal","sort":"descending","axis":{"orient":"right","values":[-1,1],"ticks":false,"domain":false,"labelPadding":3,"title":"Z-score","titleAngle":90,"titleX":9,"titleY":78}},"color":{"field":"v","type":"quantitative","legend":null,"scale":{"domain":[-1.1,0,1.1],"interpolate":"rgb","range":["#20409a","#ffffff","#ed1c24"]}}}},
{"width":86,"height":1,"data":{"values":[]},"mark":"point"},
{"width":123,"height":156,"title":{"text":"Shock-cells","offset":-2},"data":{"name":"i"},"encoding":{"x":{"field":"g","type":"nominal","scale":{"paddingInner":0.31,"paddingOuter":0.224},"axis":{"labelAngle":0,"title":null,"ticks":false,"labelExpr":"split(datum.label,' ')","labelLineHeight":15,"labelPadding":1,"labelFontSize":13.5}}},"layer":[
{"mark":"bar","encoding":{"y":{"field":"v","type":"quantitative","scale":{"domain":[0,0.15]},"axis":{"values":[0,0.05,0.1,0.15],"labelExpr":"''+datum.value","title":"Mean z-score","labelFontSize":14,"titleFontSize":14,"titlePadding":3}},"fill":{"field":"g","type":"nominal","legend":null,"scale":{"range":["#ed1c24","#20409a"]}}}},
{"mark":"rule","encoding":{"y":{"field":"v","type":"quantitative","scale":{"domain":[0,0.15]}},"y2":{"field":"hi"},"stroke":{"field":"g","type":"nominal","legend":null,"scale":{"range":["#ed1c24","#20409a"]}},"strokeWidth":{"value":1.3}}},
{"mark":{"type":"tick","orient":"horizontal","size":8,"thickness":1.3},"encoding":{"y":{"field":"hi","type":"quantitative","scale":{"domain":[0,0.15]}},"fill":{"field":"g","type":"nominal","legend":null,"scale":{"range":["#ed1c24","#20409a"]}}}},
{"data":{"values":[{}]},"mark":{"type":"rule","color":"#222","strokeWidth":1.3},"encoding":{"x":{"datum":"Missed trials","type":"nominal"},"x2":{"datum":"Pressed trials"},"y":{"datum":0.138,"scale":{"domain":[0,0.15]}}}},
{"data":{"values":[{}]},"mark":{"type":"text","text":"*","fontSize":20,"dx":29,"dy":4},"encoding":{"x":{"datum":"Missed trials","type":"nominal"},"y":{"datum":0.146,"scale":{"domain":[0,0.15]}}}}
]},
{"width":41,"height":1,"data":{"values":[]},"mark":"point"},
{"width":138,"height":157,"title":"Missed - pressed trials","layer":[
{"data":{"name":"jh"},"transform":[{"calculate":"datum.t+0.5","as":"u"}],"mark":"rect","encoding":{"x":{"field":"t","type":"quantitative","scale":{"domain":[0,5]},"axis":{"values":[0,5],"labelExpr":"''+datum.value","ticks":false,"domain":false,"labelPadding":2,"title":null}},"x2":{"field":"u"},"y":{"field":"r","type":"ordinal","scale":{"domain":[0,1,2,3,4,5,6,7,8,9,10,11,12,13,14,15,16,17,18,19,20,21,22,23]},"axis":{"labels":false,"ticks":false,"domain":false,"title":"Shock-cells","titlePadding":4}},"color":{"field":"v","type":"quantitative","legend":null,"scale":{"domain":[-1.1,0,1.1],"interpolate":"rgb","range":["#20409a","#ffffff","#ed1c24"]}}}},
{"data":{"values":[{"r":5},{"r":17}]},"mark":{"type":"rule","color":"#222","strokeWidth":1.3},"encoding":{"y":{"field":"r","type":"ordinal","bandPosition":0,"scale":{"domain":[0,1,2,3,4,5,6,7,8,9,10,11,12,13,14,15,16,17,18,19,20,21,22,23]},"axis":null}}}
]},
{"width":6,"height":1,"data":{"values":[]},"mark":"point"},
{"width":10,"height":157,"data":{"name":"c3"},"mark":"rect","encoding":{"y":{"field":"v","type":"ordinal","sort":"descending","axis":{"orient":"right","values":[-1,1],"ticks":false,"domain":false,"labelPadding":3,"title":"Z-score","titleAngle":90,"titleX":9,"titleY":78}},"color":{"field":"v","type":"quantitative","legend":null,"scale":{"domain":[-1.1,0,1.1],"interpolate":"rgb","range":["#20409a","#ffffff","#ed1c24"]}}}},
{"width":80,"height":1,"data":{"values":[]},"mark":"point"},
{"width":125,"height":156,"title":{"text":"Shock-cells","offset":-2},"data":{"name":"k"},"encoding":{"x":{"field":"g","type":"nominal","scale":{"paddingInner":0.31,"paddingOuter":0.224},"axis":{"labelAngle":0,"title":null,"ticks":false,"labelExpr":"split(datum.label,' ')","labelLineHeight":15,"labelPadding":1,"labelFontSize":13.5}}},"layer":[
{"mark":"bar","encoding":{"y":{"field":"v","type":"quantitative","scale":{"domain":[0,0.2]},"axis":{"values":[0,0.05,0.1,0.15,0.2],"labelExpr":"''+datum.value","title":"Mean z-score","labelFontSize":14,"titleFontSize":14,"titlePadding":3}},"fill":{"field":"g","type":"nominal","legend":null,"scale":{"range":["#ed1c24","#20409a"]}}}},
{"mark":"rule","encoding":{"y":{"field":"v","type":"quantitative","scale":{"domain":[0,0.2]}},"y2":{"field":"hi"},"stroke":{"field":"g","type":"nominal","legend":null,"scale":{"range":["#ed1c24","#20409a"]}},"strokeWidth":{"value":1.3}}},
{"mark":{"type":"tick","orient":"horizontal","size":8,"thickness":1.3},"encoding":{"y":{"field":"hi","type":"quantitative","scale":{"domain":[0,0.2]}},"fill":{"field":"g","type":"nominal","legend":null,"scale":{"range":["#ed1c24","#20409a"]}}}},
{"data":{"values":[{}]},"mark":{"type":"rule","color":"#222","strokeWidth":1.3},"encoding":{"x":{"datum":"Missed trials","type":"nominal"},"x2":{"datum":"Pressed trials"},"y":{"datum":0.1845,"scale":{"domain":[0,0.2]}}}},
{"data":{"values":[{}]},"mark":{"type":"text","text":"n.s.","fontSize":13,"dx":29},"encoding":{"x":{"datum":"Missed trials","type":"nominal"},"y":{"datum":0.192,"scale":{"domain":[0,0.2]}}}}
]}
]},
{"width":1,"height":170,"data":{"values":[]},"mark":"point"},
{"bounds":"flush","spacing":0,"hconcat":[
{"width":204,"height":16,"data":{"values":[{"s":"Time rel to tone (s)"}]},"mark":{"type":"text","fontSize":13.5},"encoding":{"text":{"field":"s"}}},
{"width":200,"height":1,"data":{"values":[]},"mark":"point"},
{"width":200,"height":16,"data":{"values":[{"s":"Time rel to tone (s)"}]},"mark":{"type":"text","fontSize":13.5},"encoding":{"text":{"field":"s"}}}
]}
]}
